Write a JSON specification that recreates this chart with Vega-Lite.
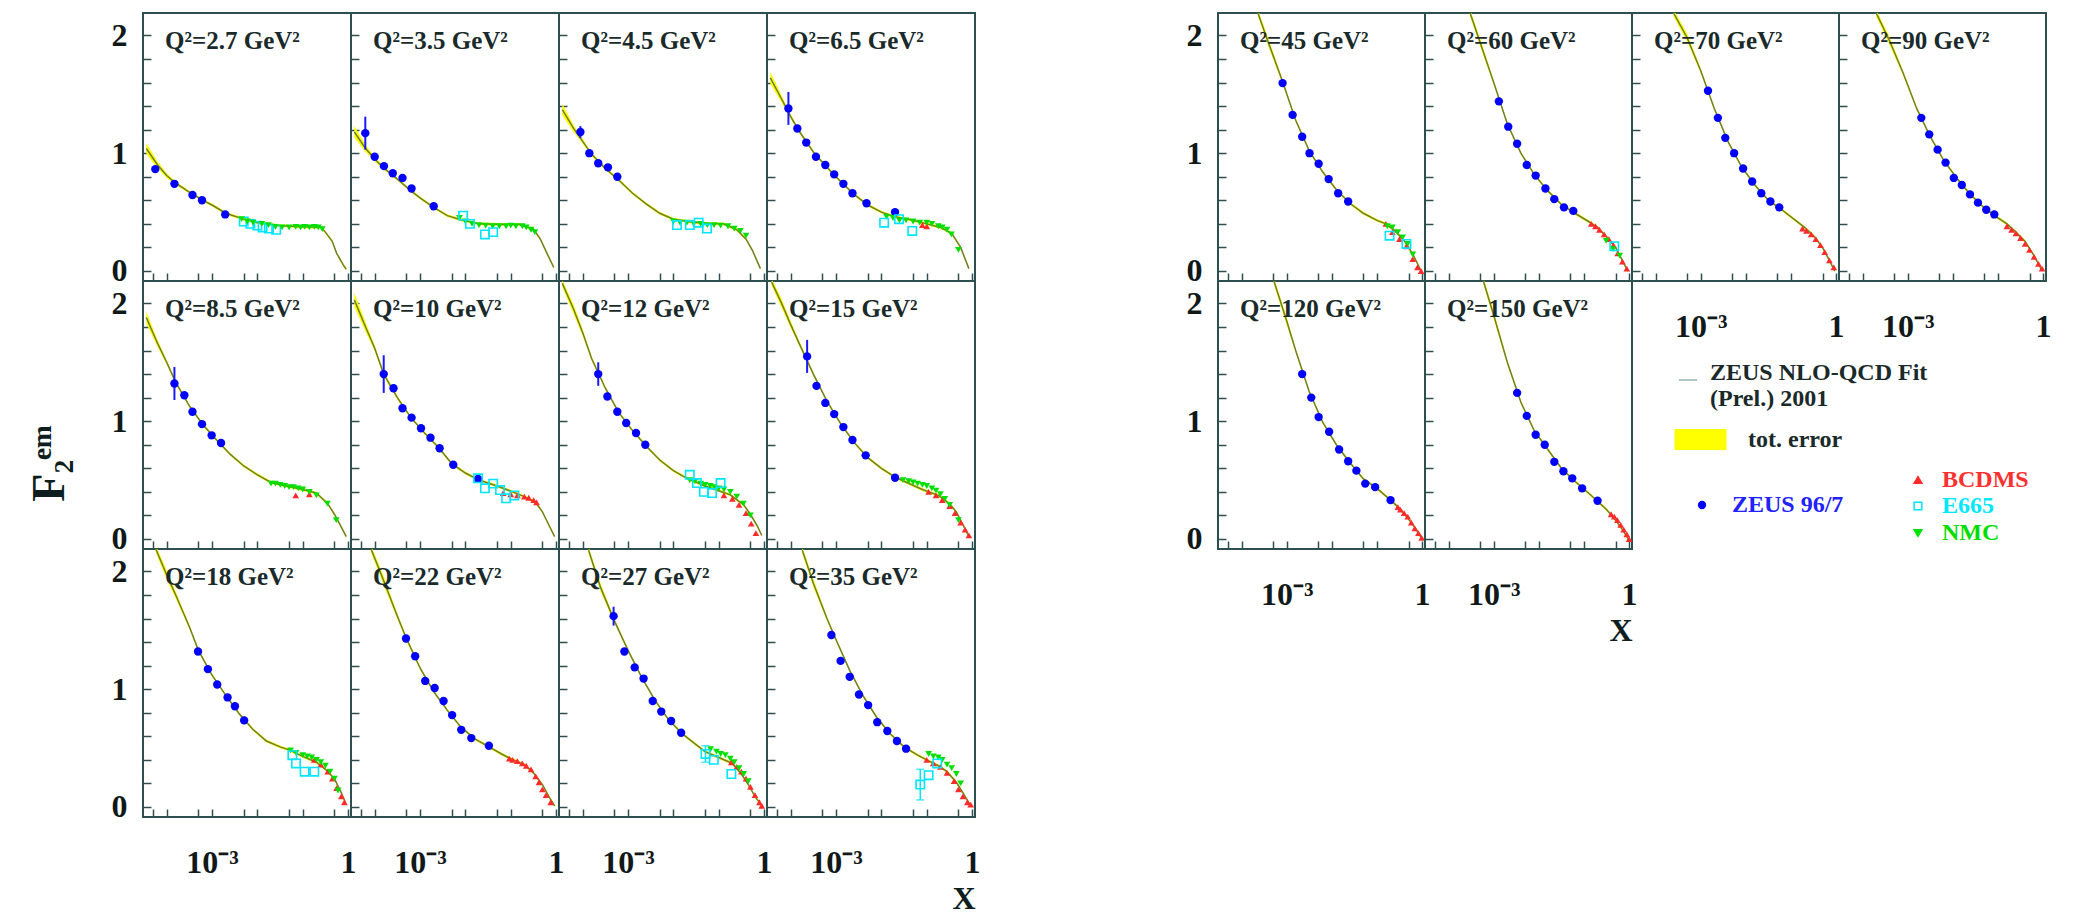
{
"$schema": "https://vega.github.io/schema/vega-lite/v6.json",
"background": "white",
"padding": {"left": 27, "top": 12, "right": 0, "bottom": 0},
"title": {"text": "F₂ᵉᵐ", "orient": "left", "anchor": "middle", "frame": "bounds", "baseline": "top", "dx": 0, "font": "Liberation Serif", "fontWeight": "bold", "fontSize": 46, "offset": 36, "color": "#0e1e1e"},
"spacing": 203,
"datasets": {
"left": [
{"q":"2.7","s":"fit","x":3.55e-5,"y":1.04,"e":0.045},{"q":"2.7","s":"fit","x":6.3e-5,"y":0.9,"e":0.03},{"q":"2.7","s":"fit","x":1e-4,"y":0.81,"e":0.02},{"q":"2.7","s":"fit","x":1.58e-4,"y":0.745,"e":0.015},{"q":"2.7","s":"fit","x":3.16e-4,"y":0.67,"e":0.012},{"q":"2.7","s":"fit","x":6.3e-4,"y":0.6,"e":0.012},{"q":"2.7","s":"fit","x":1e-3,"y":0.56,"e":0.012},{"q":"2.7","s":"fit","x":2e-3,"y":0.49,"e":0.012},{"q":"2.7","s":"fit","x":5e-3,"y":0.44,"e":0.012},{"q":"2.7","s":"fit","x":0.01,"y":0.41,"e":0.012},{"q":"2.7","s":"fit","x":0.0316,"y":0.385,"e":0.012},{"q":"2.7","s":"fit","x":0.1,"y":0.375,"e":0.012},{"q":"2.7","s":"fit","x":0.25,"y":0.372,"e":0.012},{"q":"2.7","s":"fit","x":0.316,"y":0.33,"e":0.012},{"q":"2.7","s":"fit","x":0.45,"y":0.25,"e":0.012},{"q":"2.7","s":"fit","x":0.56,"y":0.15,"e":0.012},{"q":"2.7","s":"fit","x":0.79,"y":0.05,"e":0.012},{"q":"2.7","s":"fit","x":0.91,"y":0.015,"e":0.012},
{"q":"2.7","s":"ZEUS 96/7","x":5.6e-5,"y":0.865},{"q":"2.7","s":"ZEUS 96/7","x":1.48e-4,"y":0.74},{"q":"2.7","s":"ZEUS 96/7","x":3.7e-4,"y":0.645},{"q":"2.7","s":"ZEUS 96/7","x":6e-4,"y":0.6},{"q":"2.7","s":"ZEUS 96/7","x":1.95e-3,"y":0.48},
{"q":"2.7","s":"E665","x":5e-3,"y":0.42},{"q":"2.7","s":"E665","x":7e-3,"y":0.4},{"q":"2.7","s":"E665","x":0.01,"y":0.385},{"q":"2.7","s":"E665","x":0.013,"y":0.37},{"q":"2.7","s":"E665","x":0.018,"y":0.36},{"q":"2.7","s":"E665","x":0.026,"y":0.35},
{"q":"2.7","s":"NMC","x":4.5e-3,"y":0.44},{"q":"2.7","s":"NMC","x":6e-3,"y":0.42},{"q":"2.7","s":"NMC","x":8e-3,"y":0.41},{"q":"2.7","s":"NMC","x":0.0125,"y":0.4},{"q":"2.7","s":"NMC","x":0.0175,"y":0.39},{"q":"2.7","s":"NMC","x":0.025,"y":0.375},{"q":"2.7","s":"NMC","x":0.035,"y":0.37},{"q":"2.7","s":"NMC","x":0.05,"y":0.37},{"q":"2.7","s":"NMC","x":0.07,"y":0.375},{"q":"2.7","s":"NMC","x":0.09,"y":0.37},{"q":"2.7","s":"NMC","x":0.11,"y":0.375},{"q":"2.7","s":"NMC","x":0.14,"y":0.37},{"q":"2.7","s":"NMC","x":0.18,"y":0.375},{"q":"2.7","s":"NMC","x":0.22,"y":0.37},{"q":"2.7","s":"NMC","x":0.27,"y":0.355},
{"q":"3.5","s":"fit","x":3.55e-5,"y":1.18,"e":0.05},{"q":"3.5","s":"fit","x":6.3e-5,"y":1.04,"e":0.03},{"q":"3.5","s":"fit","x":1e-4,"y":0.95,"e":0.02},{"q":"3.5","s":"fit","x":1.58e-4,"y":0.875,"e":0.015},{"q":"3.5","s":"fit","x":3.16e-4,"y":0.78,"e":0.012},{"q":"3.5","s":"fit","x":6.3e-4,"y":0.68,"e":0.012},{"q":"3.5","s":"fit","x":1e-3,"y":0.62,"e":0.012},{"q":"3.5","s":"fit","x":2e-3,"y":0.54,"e":0.012},{"q":"3.5","s":"fit","x":4e-3,"y":0.47,"e":0.012},{"q":"3.5","s":"fit","x":7.9e-3,"y":0.435,"e":0.012},{"q":"3.5","s":"fit","x":0.02,"y":0.4,"e":0.012},{"q":"3.5","s":"fit","x":0.063,"y":0.395,"e":0.012},{"q":"3.5","s":"fit","x":0.158,"y":0.395,"e":0.012},{"q":"3.5","s":"fit","x":0.316,"y":0.355,"e":0.012},{"q":"3.5","s":"fit","x":0.45,"y":0.27,"e":0.012},{"q":"3.5","s":"fit","x":0.63,"y":0.15,"e":0.012},{"q":"3.5","s":"fit","x":0.89,"y":0.03,"e":0.012},
{"q":"3.5","s":"ZEUS 96/7","x":6.2e-5,"y":1.17,"e":0.14},{"q":"3.5","s":"ZEUS 96/7","x":1e-4,"y":0.97},{"q":"3.5","s":"ZEUS 96/7","x":1.6e-4,"y":0.89},{"q":"3.5","s":"ZEUS 96/7","x":2.5e-4,"y":0.83},{"q":"3.5","s":"ZEUS 96/7","x":4.1e-4,"y":0.79},{"q":"3.5","s":"ZEUS 96/7","x":6.5e-4,"y":0.7},{"q":"3.5","s":"ZEUS 96/7","x":2e-3,"y":0.55},
{"q":"3.5","s":"E665","x":8.9e-3,"y":0.47},{"q":"3.5","s":"E665","x":0.0126,"y":0.4},{"q":"3.5","s":"E665","x":0.027,"y":0.31},{"q":"3.5","s":"E665","x":0.041,"y":0.33},
{"q":"3.5","s":"NMC","x":7.4e-3,"y":0.45},{"q":"3.5","s":"NMC","x":0.01,"y":0.42},{"q":"3.5","s":"NMC","x":0.014,"y":0.4},{"q":"3.5","s":"NMC","x":0.02,"y":0.39},{"q":"3.5","s":"NMC","x":0.028,"y":0.385},{"q":"3.5","s":"NMC","x":0.04,"y":0.38},{"q":"3.5","s":"NMC","x":0.056,"y":0.38},{"q":"3.5","s":"NMC","x":0.079,"y":0.38},{"q":"3.5","s":"NMC","x":0.1,"y":0.385},{"q":"3.5","s":"NMC","x":0.13,"y":0.38},{"q":"3.5","s":"NMC","x":0.18,"y":0.38},{"q":"3.5","s":"NMC","x":0.22,"y":0.37},{"q":"3.5","s":"NMC","x":0.28,"y":0.35},{"q":"3.5","s":"NMC","x":0.34,"y":0.33},
{"q":"4.5","s":"fit","x":3.55e-5,"y":1.37,"e":0.05},{"q":"4.5","s":"fit","x":6.3e-5,"y":1.21,"e":0.03},{"q":"4.5","s":"fit","x":1e-4,"y":1.1,"e":0.02},{"q":"4.5","s":"fit","x":1.58e-4,"y":0.99,"e":0.015},{"q":"4.5","s":"fit","x":3.16e-4,"y":0.87,"e":0.012},{"q":"4.5","s":"fit","x":6.3e-4,"y":0.77,"e":0.012},{"q":"4.5","s":"fit","x":1.26e-3,"y":0.66,"e":0.012},{"q":"4.5","s":"fit","x":2.5e-3,"y":0.57,"e":0.012},{"q":"4.5","s":"fit","x":5e-3,"y":0.49,"e":0.012},{"q":"4.5","s":"fit","x":0.01,"y":0.44,"e":0.012},{"q":"4.5","s":"fit","x":0.025,"y":0.415,"e":0.012},{"q":"4.5","s":"fit","x":0.063,"y":0.4,"e":0.012},{"q":"4.5","s":"fit","x":0.126,"y":0.4,"e":0.012},{"q":"4.5","s":"fit","x":0.25,"y":0.35,"e":0.012},{"q":"4.5","s":"fit","x":0.4,"y":0.27,"e":0.012},{"q":"4.5","s":"fit","x":0.56,"y":0.17,"e":0.012},{"q":"4.5","s":"fit","x":0.83,"y":0.02,"e":0.012},
{"q":"4.5","s":"ZEUS 96/7","x":8.9e-5,"y":1.18,"e":0.05},{"q":"4.5","s":"ZEUS 96/7","x":1.4e-4,"y":1.0},{"q":"4.5","s":"ZEUS 96/7","x":2.2e-4,"y":0.915},{"q":"4.5","s":"ZEUS 96/7","x":3.6e-4,"y":0.88},{"q":"4.5","s":"ZEUS 96/7","x":5.8e-4,"y":0.8},
{"q":"4.5","s":"E665","x":0.012,"y":0.39},{"q":"4.5","s":"E665","x":0.023,"y":0.39},{"q":"4.5","s":"E665","x":0.036,"y":0.41},{"q":"4.5","s":"E665","x":0.055,"y":0.36},
{"q":"4.5","s":"NMC","x":0.01,"y":0.42},{"q":"4.5","s":"NMC","x":0.014,"y":0.41},{"q":"4.5","s":"NMC","x":0.02,"y":0.41},{"q":"4.5","s":"NMC","x":0.028,"y":0.4},{"q":"4.5","s":"NMC","x":0.04,"y":0.4},{"q":"4.5","s":"NMC","x":0.056,"y":0.39},{"q":"4.5","s":"NMC","x":0.079,"y":0.39},{"q":"4.5","s":"NMC","x":0.11,"y":0.385},{"q":"4.5","s":"NMC","x":0.16,"y":0.38},{"q":"4.5","s":"NMC","x":0.22,"y":0.36},{"q":"4.5","s":"NMC","x":0.3,"y":0.34},{"q":"4.5","s":"NMC","x":0.4,"y":0.3},
{"q":"6.5","s":"fit","x":3.55e-5,"y":1.64,"e":0.05},{"q":"6.5","s":"fit","x":6.3e-5,"y":1.46,"e":0.03},{"q":"6.5","s":"fit","x":1e-4,"y":1.31,"e":0.02},{"q":"6.5","s":"fit","x":1.58e-4,"y":1.18,"e":0.015},{"q":"6.5","s":"fit","x":3.16e-4,"y":1.01,"e":0.012},{"q":"6.5","s":"fit","x":6.3e-4,"y":0.88,"e":0.012},{"q":"6.5","s":"fit","x":1.26e-3,"y":0.76,"e":0.012},{"q":"6.5","s":"fit","x":2.5e-3,"y":0.65,"e":0.012},{"q":"6.5","s":"fit","x":5e-3,"y":0.56,"e":0.012},{"q":"6.5","s":"fit","x":0.01,"y":0.5,"e":0.012},{"q":"6.5","s":"fit","x":0.02,"y":0.46,"e":0.012},{"q":"6.5","s":"fit","x":0.05,"y":0.43,"e":0.012},{"q":"6.5","s":"fit","x":0.1,"y":0.4,"e":0.012},{"q":"6.5","s":"fit","x":0.2,"y":0.37,"e":0.012},{"q":"6.5","s":"fit","x":0.355,"y":0.32,"e":0.012},{"q":"6.5","s":"fit","x":0.56,"y":0.2,"e":0.012},{"q":"6.5","s":"fit","x":0.85,"y":0.02,"e":0.012},
{"q":"6.5","s":"ZEUS 96/7","x":8.9e-5,"y":1.38,"e":0.14},{"q":"6.5","s":"ZEUS 96/7","x":1.4e-4,"y":1.21},{"q":"6.5","s":"ZEUS 96/7","x":2.2e-4,"y":1.09},{"q":"6.5","s":"ZEUS 96/7","x":3.6e-4,"y":0.97},{"q":"6.5","s":"ZEUS 96/7","x":5.8e-4,"y":0.9},{"q":"6.5","s":"ZEUS 96/7","x":9.1e-4,"y":0.82},{"q":"6.5","s":"ZEUS 96/7","x":1.45e-3,"y":0.74},{"q":"6.5","s":"ZEUS 96/7","x":2.3e-3,"y":0.66},{"q":"6.5","s":"ZEUS 96/7","x":4.7e-3,"y":0.575},{"q":"6.5","s":"ZEUS 96/7","x":0.02,"y":0.5},
{"q":"6.5","s":"E665","x":0.0115,"y":0.41},{"q":"6.5","s":"E665","x":0.0245,"y":0.44},{"q":"6.5","s":"E665","x":0.048,"y":0.34},
{"q":"6.5","s":"NMC","x":0.013,"y":0.46},{"q":"6.5","s":"NMC","x":0.018,"y":0.45},{"q":"6.5","s":"NMC","x":0.025,"y":0.43},{"q":"6.5","s":"NMC","x":0.035,"y":0.43},{"q":"6.5","s":"NMC","x":0.05,"y":0.42},{"q":"6.5","s":"NMC","x":0.07,"y":0.41},{"q":"6.5","s":"NMC","x":0.1,"y":0.41},{"q":"6.5","s":"NMC","x":0.13,"y":0.4},{"q":"6.5","s":"NMC","x":0.18,"y":0.38},{"q":"6.5","s":"NMC","x":0.22,"y":0.37},{"q":"6.5","s":"NMC","x":0.28,"y":0.35},{"q":"6.5","s":"NMC","x":0.35,"y":0.31},{"q":"6.5","s":"NMC","x":0.5,"y":0.18},
{"q":"6.5","s":"BCDMS","x":0.08,"y":0.39},{"q":"6.5","s":"BCDMS","x":0.1,"y":0.38},
{"q":"8.5","s":"fit","x":3.55e-5,"y":1.88,"e":0.05},{"q":"8.5","s":"fit","x":6.3e-5,"y":1.66,"e":0.03},{"q":"8.5","s":"fit","x":1e-4,"y":1.5,"e":0.02},{"q":"8.5","s":"fit","x":1.58e-4,"y":1.33,"e":0.015},{"q":"8.5","s":"fit","x":3.16e-4,"y":1.13,"e":0.012},{"q":"8.5","s":"fit","x":6.3e-4,"y":0.97,"e":0.012},{"q":"8.5","s":"fit","x":1.26e-3,"y":0.84,"e":0.012},{"q":"8.5","s":"fit","x":2.5e-3,"y":0.72,"e":0.012},{"q":"8.5","s":"fit","x":5e-3,"y":0.62,"e":0.012},{"q":"8.5","s":"fit","x":0.01,"y":0.545,"e":0.012},{"q":"8.5","s":"fit","x":0.02,"y":0.48,"e":0.012},{"q":"8.5","s":"fit","x":0.05,"y":0.445,"e":0.012},{"q":"8.5","s":"fit","x":0.1,"y":0.42,"e":0.012},{"q":"8.5","s":"fit","x":0.2,"y":0.39,"e":0.012},{"q":"8.5","s":"fit","x":0.355,"y":0.3,"e":0.012},{"q":"8.5","s":"fit","x":0.5,"y":0.21,"e":0.012},{"q":"8.5","s":"fit","x":0.71,"y":0.1,"e":0.012},{"q":"8.5","s":"fit","x":0.91,"y":0.02,"e":0.012},
{"q":"8.5","s":"ZEUS 96/7","x":1.48e-4,"y":1.32,"e":0.14},{"q":"8.5","s":"ZEUS 96/7","x":2.45e-4,"y":1.22},{"q":"8.5","s":"ZEUS 96/7","x":3.7e-4,"y":1.08},{"q":"8.5","s":"ZEUS 96/7","x":6e-4,"y":0.975},{"q":"8.5","s":"ZEUS 96/7","x":9.8e-4,"y":0.88},{"q":"8.5","s":"ZEUS 96/7","x":1.58e-3,"y":0.815},
{"q":"8.5","s":"NMC","x":0.02,"y":0.47},{"q":"8.5","s":"NMC","x":0.025,"y":0.47},{"q":"8.5","s":"NMC","x":0.032,"y":0.46},{"q":"8.5","s":"NMC","x":0.04,"y":0.45},{"q":"8.5","s":"NMC","x":0.05,"y":0.44},{"q":"8.5","s":"NMC","x":0.063,"y":0.44},{"q":"8.5","s":"NMC","x":0.08,"y":0.43},{"q":"8.5","s":"NMC","x":0.1,"y":0.42},{"q":"8.5","s":"NMC","x":0.14,"y":0.4},{"q":"8.5","s":"NMC","x":0.2,"y":0.37},{"q":"8.5","s":"NMC","x":0.35,"y":0.3},{"q":"8.5","s":"NMC","x":0.55,"y":0.16},
{"q":"8.5","s":"BCDMS","x":0.07,"y":0.37},{"q":"8.5","s":"BCDMS","x":0.14,"y":0.38},
{"q":"10","s":"fit","x":3.55e-5,"y":2.03,"e":0.06},{"q":"10","s":"fit","x":6.3e-5,"y":1.8,"e":0.04},{"q":"10","s":"fit","x":1e-4,"y":1.62,"e":0.025},{"q":"10","s":"fit","x":1.58e-4,"y":1.4,"e":0.02},{"q":"10","s":"fit","x":3.16e-4,"y":1.2,"e":0.015},{"q":"10","s":"fit","x":6.3e-4,"y":1.03,"e":0.012},{"q":"10","s":"fit","x":1.26e-3,"y":0.9,"e":0.012},{"q":"10","s":"fit","x":2.5e-3,"y":0.78,"e":0.012},{"q":"10","s":"fit","x":5e-3,"y":0.64,"e":0.012},{"q":"10","s":"fit","x":0.01,"y":0.56,"e":0.012},{"q":"10","s":"fit","x":0.02,"y":0.5,"e":0.012},{"q":"10","s":"fit","x":0.05,"y":0.45,"e":0.012},{"q":"10","s":"fit","x":0.11,"y":0.4,"e":0.012},{"q":"10","s":"fit","x":0.2,"y":0.36,"e":0.012},{"q":"10","s":"fit","x":0.355,"y":0.31,"e":0.012},{"q":"10","s":"fit","x":0.5,"y":0.23,"e":0.012},{"q":"10","s":"fit","x":0.71,"y":0.11,"e":0.012},{"q":"10","s":"fit","x":0.93,"y":0.02,"e":0.012},
{"q":"10","s":"ZEUS 96/7","x":1.58e-4,"y":1.4,"e":0.16},{"q":"10","s":"ZEUS 96/7","x":2.6e-4,"y":1.28},{"q":"10","s":"ZEUS 96/7","x":4.1e-4,"y":1.11},{"q":"10","s":"ZEUS 96/7","x":6.5e-4,"y":1.03},{"q":"10","s":"ZEUS 96/7","x":1.05e-3,"y":0.94},{"q":"10","s":"ZEUS 96/7","x":1.7e-3,"y":0.86},{"q":"10","s":"ZEUS 96/7","x":2.7e-3,"y":0.77},{"q":"10","s":"ZEUS 96/7","x":5.4e-3,"y":0.63},{"q":"10","s":"ZEUS 96/7","x":0.019,"y":0.51},
{"q":"10","s":"E665","x":0.019,"y":0.515},{"q":"10","s":"E665","x":0.027,"y":0.43},{"q":"10","s":"E665","x":0.041,"y":0.47},{"q":"10","s":"E665","x":0.058,"y":0.415},{"q":"10","s":"E665","x":0.079,"y":0.345},{"q":"10","s":"E665","x":0.12,"y":0.37},
{"q":"10","s":"BCDMS","x":0.068,"y":0.39},{"q":"10","s":"BCDMS","x":0.1,"y":0.38},{"q":"10","s":"BCDMS","x":0.14,"y":0.37},{"q":"10","s":"BCDMS","x":0.2,"y":0.36},{"q":"10","s":"BCDMS","x":0.25,"y":0.35},{"q":"10","s":"BCDMS","x":0.32,"y":0.33},{"q":"10","s":"BCDMS","x":0.37,"y":0.31},
{"q":"12","s":"fit","x":3.55e-5,"y":2.17,"e":0.03},{"q":"12","s":"fit","x":6.3e-5,"y":1.95,"e":0.04},{"q":"12","s":"fit","x":1e-4,"y":1.75,"e":0.03},{"q":"12","s":"fit","x":1.58e-4,"y":1.53,"e":0.02},{"q":"12","s":"fit","x":3.16e-4,"y":1.28,"e":0.015},{"q":"12","s":"fit","x":6.3e-4,"y":1.07,"e":0.012},{"q":"12","s":"fit","x":1.26e-3,"y":0.92,"e":0.012},{"q":"12","s":"fit","x":2.5e-3,"y":0.79,"e":0.012},{"q":"12","s":"fit","x":5e-3,"y":0.67,"e":0.012},{"q":"12","s":"fit","x":0.01,"y":0.58,"e":0.012},{"q":"12","s":"fit","x":0.02,"y":0.515,"e":0.012},{"q":"12","s":"fit","x":0.05,"y":0.45,"e":0.012},{"q":"12","s":"fit","x":0.1,"y":0.41,"e":0.012},{"q":"12","s":"fit","x":0.18,"y":0.375,"e":0.012},{"q":"12","s":"fit","x":0.355,"y":0.29,"e":0.012},{"q":"12","s":"fit","x":0.5,"y":0.21,"e":0.012},{"q":"12","s":"fit","x":0.71,"y":0.11,"e":0.012},{"q":"12","s":"fit","x":0.89,"y":0.03,"e":0.012},
{"q":"12","s":"ZEUS 96/7","x":2.2e-4,"y":1.4,"e":0.1},{"q":"12","s":"ZEUS 96/7","x":3.5e-4,"y":1.21},{"q":"12","s":"ZEUS 96/7","x":5.8e-4,"y":1.08},{"q":"12","s":"ZEUS 96/7","x":9.1e-4,"y":0.985},{"q":"12","s":"ZEUS 96/7","x":1.5e-3,"y":0.9},{"q":"12","s":"ZEUS 96/7","x":2.4e-3,"y":0.8},
{"q":"12","s":"E665","x":0.023,"y":0.545},{"q":"12","s":"E665","x":0.033,"y":0.475},{"q":"12","s":"E665","x":0.047,"y":0.4},{"q":"12","s":"E665","x":0.071,"y":0.39},{"q":"12","s":"E665","x":0.11,"y":0.475},
{"q":"12","s":"NMC","x":0.023,"y":0.5},{"q":"12","s":"NMC","x":0.03,"y":0.49},{"q":"12","s":"NMC","x":0.04,"y":0.47},{"q":"12","s":"NMC","x":0.05,"y":0.46},{"q":"12","s":"NMC","x":0.065,"y":0.45},{"q":"12","s":"NMC","x":0.08,"y":0.44},{"q":"12","s":"NMC","x":0.1,"y":0.43},{"q":"12","s":"NMC","x":0.13,"y":0.42},{"q":"12","s":"NMC","x":0.18,"y":0.4},{"q":"12","s":"NMC","x":0.25,"y":0.36},{"q":"12","s":"NMC","x":0.35,"y":0.3},{"q":"12","s":"NMC","x":0.5,"y":0.2},
{"q":"12","s":"BCDMS","x":0.13,"y":0.37},{"q":"12","s":"BCDMS","x":0.2,"y":0.34},{"q":"12","s":"BCDMS","x":0.28,"y":0.29},{"q":"12","s":"BCDMS","x":0.4,"y":0.22},{"q":"12","s":"BCDMS","x":0.52,"y":0.13},{"q":"12","s":"BCDMS","x":0.66,"y":0.05},
{"q":"15","s":"fit","x":3.8e-5,"y":2.18,"e":0.03},{"q":"15","s":"fit","x":6.3e-5,"y":2.0,"e":0.04},{"q":"15","s":"fit","x":1e-4,"y":1.82,"e":0.03},{"q":"15","s":"fit","x":1.58e-4,"y":1.65,"e":0.02},{"q":"15","s":"fit","x":3.16e-4,"y":1.4,"e":0.015},{"q":"15","s":"fit","x":6.3e-4,"y":1.17,"e":0.012},{"q":"15","s":"fit","x":1.26e-3,"y":0.98,"e":0.012},{"q":"15","s":"fit","x":2.5e-3,"y":0.82,"e":0.012},{"q":"15","s":"fit","x":5e-3,"y":0.69,"e":0.012},{"q":"15","s":"fit","x":0.01,"y":0.6,"e":0.012},{"q":"15","s":"fit","x":0.02,"y":0.525,"e":0.012},{"q":"15","s":"fit","x":0.0316,"y":0.49,"e":0.012},{"q":"15","s":"fit","x":0.08,"y":0.42,"e":0.012},{"q":"15","s":"fit","x":0.18,"y":0.37,"e":0.012},{"q":"15","s":"fit","x":0.316,"y":0.3,"e":0.012},{"q":"15","s":"fit","x":0.45,"y":0.23,"e":0.012},{"q":"15","s":"fit","x":0.63,"y":0.12,"e":0.012},{"q":"15","s":"fit","x":0.83,"y":0.03,"e":0.012},
{"q":"15","s":"ZEUS 96/7","x":2.3e-4,"y":1.55,"e":0.14},{"q":"15","s":"ZEUS 96/7","x":3.7e-4,"y":1.3},{"q":"15","s":"ZEUS 96/7","x":5.8e-4,"y":1.155},{"q":"15","s":"ZEUS 96/7","x":9.1e-4,"y":1.06},{"q":"15","s":"ZEUS 96/7","x":1.45e-3,"y":0.95},{"q":"15","s":"ZEUS 96/7","x":2.3e-3,"y":0.84},{"q":"15","s":"ZEUS 96/7","x":4.5e-3,"y":0.71},{"q":"15","s":"ZEUS 96/7","x":0.02,"y":0.52},
{"q":"15","s":"NMC","x":0.03,"y":0.5},{"q":"15","s":"NMC","x":0.04,"y":0.49},{"q":"15","s":"NMC","x":0.05,"y":0.48},{"q":"15","s":"NMC","x":0.063,"y":0.47},{"q":"15","s":"NMC","x":0.08,"y":0.46},{"q":"15","s":"NMC","x":0.1,"y":0.45},{"q":"15","s":"NMC","x":0.13,"y":0.43},{"q":"15","s":"NMC","x":0.16,"y":0.41},{"q":"15","s":"NMC","x":0.2,"y":0.38},{"q":"15","s":"NMC","x":0.25,"y":0.34},{"q":"15","s":"NMC","x":0.32,"y":0.29},{"q":"15","s":"NMC","x":0.5,"y":0.16},
{"q":"15","s":"BCDMS","x":0.11,"y":0.4},{"q":"15","s":"BCDMS","x":0.16,"y":0.37},{"q":"15","s":"BCDMS","x":0.22,"y":0.33},{"q":"15","s":"BCDMS","x":0.32,"y":0.28},{"q":"15","s":"BCDMS","x":0.42,"y":0.22},{"q":"15","s":"BCDMS","x":0.56,"y":0.14},{"q":"15","s":"BCDMS","x":0.7,"y":0.08},{"q":"15","s":"BCDMS","x":0.85,"y":0.03},
{"q":"18","s":"fit","x":5.75e-5,"y":2.19,"e":0.03},{"q":"18","s":"fit","x":1e-4,"y":1.97,"e":0.04},{"q":"18","s":"fit","x":1.58e-4,"y":1.8,"e":0.03},{"q":"18","s":"fit","x":3.16e-4,"y":1.53,"e":0.02},{"q":"18","s":"fit","x":5e-4,"y":1.33,"e":0.015},{"q":"18","s":"fit","x":1e-3,"y":1.12,"e":0.012},{"q":"18","s":"fit","x":2e-3,"y":0.95,"e":0.012},{"q":"18","s":"fit","x":4e-3,"y":0.79,"e":0.012},{"q":"18","s":"fit","x":7.9e-3,"y":0.66,"e":0.012},{"q":"18","s":"fit","x":0.0158,"y":0.56,"e":0.012},{"q":"18","s":"fit","x":0.0316,"y":0.51,"e":0.012},{"q":"18","s":"fit","x":0.05,"y":0.485,"e":0.012},{"q":"18","s":"fit","x":0.1,"y":0.43,"e":0.012},{"q":"18","s":"fit","x":0.2,"y":0.38,"e":0.012},{"q":"18","s":"fit","x":0.316,"y":0.32,"e":0.012},{"q":"18","s":"fit","x":0.5,"y":0.24,"e":0.012},{"q":"18","s":"fit","x":0.71,"y":0.12,"e":0.012},{"q":"18","s":"fit","x":0.89,"y":0.03,"e":0.012},
{"q":"18","s":"ZEUS 96/7","x":4.9e-4,"y":1.32},{"q":"18","s":"ZEUS 96/7","x":8.1e-4,"y":1.17},{"q":"18","s":"ZEUS 96/7","x":1.3e-3,"y":1.04},{"q":"18","s":"ZEUS 96/7","x":2.2e-3,"y":0.93},{"q":"18","s":"ZEUS 96/7","x":3.2e-3,"y":0.855},{"q":"18","s":"ZEUS 96/7","x":5.1e-3,"y":0.735},
{"q":"18","s":"E665","x":0.059,"y":0.44},{"q":"18","s":"E665","x":0.071,"y":0.37},{"q":"18","s":"E665","x":0.11,"y":0.3},{"q":"18","s":"E665","x":0.18,"y":0.3},
{"q":"18","s":"NMC","x":0.054,"y":0.48},{"q":"18","s":"NMC","x":0.071,"y":0.46},{"q":"18","s":"NMC","x":0.1,"y":0.44},{"q":"18","s":"NMC","x":0.126,"y":0.43},{"q":"18","s":"NMC","x":0.158,"y":0.42},{"q":"18","s":"NMC","x":0.2,"y":0.4},{"q":"18","s":"NMC","x":0.25,"y":0.38},{"q":"18","s":"NMC","x":0.316,"y":0.35},{"q":"18","s":"NMC","x":0.4,"y":0.3},{"q":"18","s":"NMC","x":0.5,"y":0.24},{"q":"18","s":"NMC","x":0.6,"y":0.14},
{"q":"18","s":"BCDMS","x":0.18,"y":0.4},{"q":"18","s":"BCDMS","x":0.25,"y":0.36},{"q":"18","s":"BCDMS","x":0.355,"y":0.3},{"q":"18","s":"BCDMS","x":0.45,"y":0.24},{"q":"18","s":"BCDMS","x":0.56,"y":0.16},{"q":"18","s":"BCDMS","x":0.71,"y":0.09},{"q":"18","s":"BCDMS","x":0.83,"y":0.04},
{"q":"22","s":"fit","x":8.3e-5,"y":2.19,"e":0.03},{"q":"22","s":"fit","x":1.58e-4,"y":1.92,"e":0.04},{"q":"22","s":"fit","x":3.16e-4,"y":1.62,"e":0.025},{"q":"22","s":"fit","x":5e-4,"y":1.43,"e":0.02},{"q":"22","s":"fit","x":1e-3,"y":1.18,"e":0.015},{"q":"22","s":"fit","x":2e-3,"y":0.98,"e":0.012},{"q":"22","s":"fit","x":4e-3,"y":0.82,"e":0.012},{"q":"22","s":"fit","x":7.9e-3,"y":0.68,"e":0.012},{"q":"22","s":"fit","x":0.0158,"y":0.58,"e":0.012},{"q":"22","s":"fit","x":0.0316,"y":0.515,"e":0.012},{"q":"22","s":"fit","x":0.063,"y":0.45,"e":0.012},{"q":"22","s":"fit","x":0.1,"y":0.41,"e":0.012},{"q":"22","s":"fit","x":0.2,"y":0.36,"e":0.012},{"q":"22","s":"fit","x":0.316,"y":0.29,"e":0.012},{"q":"22","s":"fit","x":0.5,"y":0.19,"e":0.012},{"q":"22","s":"fit","x":0.74,"y":0.07,"e":0.012},{"q":"22","s":"fit","x":0.93,"y":0.01,"e":0.012},
{"q":"22","s":"ZEUS 96/7","x":4.9e-4,"y":1.43},{"q":"22","s":"ZEUS 96/7","x":7.8e-4,"y":1.28},{"q":"22","s":"ZEUS 96/7","x":1.3e-3,"y":1.07},{"q":"22","s":"ZEUS 96/7","x":2.1e-3,"y":1.01},{"q":"22","s":"ZEUS 96/7","x":3.3e-3,"y":0.9},{"q":"22","s":"ZEUS 96/7","x":5.1e-3,"y":0.78},{"q":"22","s":"ZEUS 96/7","x":8.1e-3,"y":0.655},{"q":"22","s":"ZEUS 96/7","x":0.0135,"y":0.585},{"q":"22","s":"ZEUS 96/7","x":0.033,"y":0.52},
{"q":"22","s":"BCDMS","x":0.093,"y":0.41},{"q":"22","s":"BCDMS","x":0.11,"y":0.4},{"q":"22","s":"BCDMS","x":0.14,"y":0.39},{"q":"22","s":"BCDMS","x":0.18,"y":0.37},{"q":"22","s":"BCDMS","x":0.22,"y":0.35},{"q":"22","s":"BCDMS","x":0.28,"y":0.32},{"q":"22","s":"BCDMS","x":0.355,"y":0.26},{"q":"22","s":"BCDMS","x":0.42,"y":0.21},{"q":"22","s":"BCDMS","x":0.5,"y":0.15},{"q":"22","s":"BCDMS","x":0.6,"y":0.1},{"q":"22","s":"BCDMS","x":0.76,"y":0.04},
{"q":"27","s":"fit","x":1.35e-4,"y":2.18,"e":0.03},{"q":"27","s":"fit","x":2.5e-4,"y":1.86,"e":0.035},{"q":"27","s":"fit","x":5e-4,"y":1.58,"e":0.02},{"q":"27","s":"fit","x":1e-3,"y":1.33,"e":0.015},{"q":"27","s":"fit","x":2e-3,"y":1.1,"e":0.012},{"q":"27","s":"fit","x":4e-3,"y":0.9,"e":0.012},{"q":"27","s":"fit","x":7.9e-3,"y":0.74,"e":0.012},{"q":"27","s":"fit","x":0.0158,"y":0.62,"e":0.012},{"q":"27","s":"fit","x":0.0316,"y":0.53,"e":0.012},{"q":"27","s":"fit","x":0.05,"y":0.47,"e":0.012},{"q":"27","s":"fit","x":0.1,"y":0.42,"e":0.012},{"q":"27","s":"fit","x":0.2,"y":0.37,"e":0.012},{"q":"27","s":"fit","x":0.316,"y":0.28,"e":0.012},{"q":"27","s":"fit","x":0.45,"y":0.19,"e":0.012},{"q":"27","s":"fit","x":0.63,"y":0.09,"e":0.012},{"q":"27","s":"fit","x":0.85,"y":0.02,"e":0.012},
{"q":"27","s":"ZEUS 96/7","x":4.8e-4,"y":1.62,"e":0.08},{"q":"27","s":"ZEUS 96/7","x":8.3e-4,"y":1.32},{"q":"27","s":"ZEUS 96/7","x":1.4e-3,"y":1.185},{"q":"27","s":"ZEUS 96/7","x":2.2e-3,"y":1.09},{"q":"27","s":"ZEUS 96/7","x":3.5e-3,"y":0.9},{"q":"27","s":"ZEUS 96/7","x":5.4e-3,"y":0.81},{"q":"27","s":"ZEUS 96/7","x":8.9e-3,"y":0.73},{"q":"27","s":"ZEUS 96/7","x":0.0148,"y":0.63},
{"q":"27","s":"E665","x":0.051,"y":0.45,"e":0.07},{"q":"27","s":"E665","x":0.078,"y":0.4},{"q":"27","s":"E665","x":0.19,"y":0.28},
{"q":"27","s":"NMC","x":0.066,"y":0.49},{"q":"27","s":"NMC","x":0.089,"y":0.47},{"q":"27","s":"NMC","x":0.11,"y":0.45},{"q":"27","s":"NMC","x":0.14,"y":0.44},{"q":"27","s":"NMC","x":0.18,"y":0.41},{"q":"27","s":"NMC","x":0.22,"y":0.38},{"q":"27","s":"NMC","x":0.28,"y":0.33},{"q":"27","s":"NMC","x":0.355,"y":0.28},{"q":"27","s":"NMC","x":0.45,"y":0.22},
{"q":"27","s":"BCDMS","x":0.19,"y":0.38},{"q":"27","s":"BCDMS","x":0.25,"y":0.34},{"q":"27","s":"BCDMS","x":0.316,"y":0.3},{"q":"27","s":"BCDMS","x":0.4,"y":0.24},{"q":"27","s":"BCDMS","x":0.5,"y":0.17},{"q":"27","s":"BCDMS","x":0.63,"y":0.1},{"q":"27","s":"BCDMS","x":0.79,"y":0.04},{"q":"27","s":"BCDMS","x":0.89,"y":0.01},
{"q":"35","s":"fit","x":1.8e-4,"y":2.18,"e":0.03},{"q":"35","s":"fit","x":3.16e-4,"y":1.9,"e":0.035},{"q":"35","s":"fit","x":6.3e-4,"y":1.6,"e":0.02},{"q":"35","s":"fit","x":1e-3,"y":1.42,"e":0.015},{"q":"35","s":"fit","x":2e-3,"y":1.16,"e":0.012},{"q":"35","s":"fit","x":4e-3,"y":0.94,"e":0.012},{"q":"35","s":"fit","x":7.9e-3,"y":0.76,"e":0.012},{"q":"35","s":"fit","x":0.0158,"y":0.62,"e":0.012},{"q":"35","s":"fit","x":0.0316,"y":0.51,"e":0.012},{"q":"35","s":"fit","x":0.063,"y":0.44,"e":0.012},{"q":"35","s":"fit","x":0.1,"y":0.4,"e":0.012},{"q":"35","s":"fit","x":0.18,"y":0.35,"e":0.012},{"q":"35","s":"fit","x":0.28,"y":0.3,"e":0.012},{"q":"35","s":"fit","x":0.45,"y":0.21,"e":0.012},{"q":"35","s":"fit","x":0.63,"y":0.12,"e":0.012},{"q":"35","s":"fit","x":0.93,"y":0.01,"e":0.012},
{"q":"35","s":"ZEUS 96/7","x":7.9e-4,"y":1.46},{"q":"35","s":"ZEUS 96/7","x":1.26e-3,"y":1.24},{"q":"35","s":"ZEUS 96/7","x":2e-3,"y":1.105},{"q":"35","s":"ZEUS 96/7","x":3.2e-3,"y":0.955},{"q":"35","s":"ZEUS 96/7","x":5.1e-3,"y":0.865},{"q":"35","s":"ZEUS 96/7","x":8.1e-3,"y":0.72},{"q":"35","s":"ZEUS 96/7","x":0.0135,"y":0.645},{"q":"35","s":"ZEUS 96/7","x":0.022,"y":0.56},{"q":"35","s":"ZEUS 96/7","x":0.035,"y":0.495},
{"q":"35","s":"E665","x":0.072,"y":0.19,"e":0.13},{"q":"35","s":"E665","x":0.11,"y":0.27},{"q":"35","s":"E665","x":0.17,"y":0.37},
{"q":"35","s":"NMC","x":0.11,"y":0.45},{"q":"35","s":"NMC","x":0.14,"y":0.43},{"q":"35","s":"NMC","x":0.18,"y":0.42},{"q":"35","s":"NMC","x":0.22,"y":0.4},{"q":"35","s":"NMC","x":0.28,"y":0.36},{"q":"35","s":"NMC","x":0.355,"y":0.33},{"q":"35","s":"NMC","x":0.45,"y":0.28},{"q":"35","s":"NMC","x":0.56,"y":0.2},
{"q":"35","s":"BCDMS","x":0.1,"y":0.4},{"q":"35","s":"BCDMS","x":0.14,"y":0.37},{"q":"35","s":"BCDMS","x":0.2,"y":0.34},{"q":"35","s":"BCDMS","x":0.28,"y":0.29},{"q":"35","s":"BCDMS","x":0.4,"y":0.22},{"q":"35","s":"BCDMS","x":0.5,"y":0.15},{"q":"35","s":"BCDMS","x":0.63,"y":0.09},{"q":"35","s":"BCDMS","x":0.79,"y":0.04},{"q":"35","s":"BCDMS","x":0.93,"y":0.02}
],
"right": [
{"q":"45","s":"fit","x":2.3e-4,"y":2.19,"e":0.03},{"q":"45","s":"fit","x":4e-4,"y":1.93,"e":0.035},{"q":"45","s":"fit","x":7.9e-4,"y":1.62,"e":0.02},{"q":"45","s":"fit","x":1.58e-3,"y":1.28,"e":0.015},{"q":"45","s":"fit","x":3.16e-3,"y":1.02,"e":0.012},{"q":"45","s":"fit","x":6.3e-3,"y":0.84,"e":0.012},{"q":"45","s":"fit","x":0.0126,"y":0.69,"e":0.012},{"q":"45","s":"fit","x":0.025,"y":0.575,"e":0.012},{"q":"45","s":"fit","x":0.05,"y":0.49,"e":0.012},{"q":"45","s":"fit","x":0.1,"y":0.43,"e":0.012},{"q":"45","s":"fit","x":0.158,"y":0.4,"e":0.012},{"q":"45","s":"fit","x":0.25,"y":0.34,"e":0.012},{"q":"45","s":"fit","x":0.4,"y":0.26,"e":0.012},{"q":"45","s":"fit","x":0.63,"y":0.14,"e":0.012},{"q":"45","s":"fit","x":0.95,"y":0.0,"e":0.012},
{"q":"45","s":"ZEUS 96/7","x":8.1e-4,"y":1.595},{"q":"45","s":"ZEUS 96/7","x":1.35e-3,"y":1.325},{"q":"45","s":"ZEUS 96/7","x":2.2e-3,"y":1.14},{"q":"45","s":"ZEUS 96/7","x":3.2e-3,"y":1.0},{"q":"45","s":"ZEUS 96/7","x":5.1e-3,"y":0.91},{"q":"45","s":"ZEUS 96/7","x":8.5e-3,"y":0.78},{"q":"45","s":"ZEUS 96/7","x":0.0138,"y":0.66},{"q":"45","s":"ZEUS 96/7","x":0.023,"y":0.59},
{"q":"45","s":"E665","x":0.19,"y":0.3},{"q":"45","s":"E665","x":0.45,"y":0.23},
{"q":"45","s":"NMC","x":0.17,"y":0.38},{"q":"45","s":"NMC","x":0.22,"y":0.37},{"q":"45","s":"NMC","x":0.29,"y":0.33},{"q":"45","s":"NMC","x":0.37,"y":0.285},{"q":"45","s":"NMC","x":0.48,"y":0.23},{"q":"45","s":"NMC","x":0.62,"y":0.14},
{"q":"45","s":"BCDMS","x":0.158,"y":0.4},{"q":"45","s":"BCDMS","x":0.22,"y":0.33},{"q":"45","s":"BCDMS","x":0.316,"y":0.27},{"q":"45","s":"BCDMS","x":0.45,"y":0.21},{"q":"45","s":"BCDMS","x":0.62,"y":0.1},{"q":"45","s":"BCDMS","x":0.79,"y":0.03},{"q":"45","s":"BCDMS","x":0.95,"y":0.0},
{"q":"60","s":"fit","x":3e-4,"y":2.19,"e":0.03},{"q":"60","s":"fit","x":5e-4,"y":1.94,"e":0.035},{"q":"60","s":"fit","x":1e-3,"y":1.6,"e":0.02},{"q":"60","s":"fit","x":2e-3,"y":1.25,"e":0.015},{"q":"60","s":"fit","x":4e-3,"y":1.0,"e":0.012},{"q":"60","s":"fit","x":7.9e-3,"y":0.82,"e":0.012},{"q":"60","s":"fit","x":0.0158,"y":0.68,"e":0.012},{"q":"60","s":"fit","x":0.0316,"y":0.565,"e":0.012},{"q":"60","s":"fit","x":0.063,"y":0.49,"e":0.012},{"q":"60","s":"fit","x":0.126,"y":0.42,"e":0.012},{"q":"60","s":"fit","x":0.2,"y":0.37,"e":0.012},{"q":"60","s":"fit","x":0.316,"y":0.29,"e":0.012},{"q":"60","s":"fit","x":0.5,"y":0.2,"e":0.012},{"q":"60","s":"fit","x":0.71,"y":0.09,"e":0.012},{"q":"60","s":"fit","x":0.93,"y":0.0,"e":0.012},
{"q":"60","s":"ZEUS 96/7","x":1.3e-3,"y":1.44},{"q":"60","s":"ZEUS 96/7","x":2.1e-3,"y":1.225},{"q":"60","s":"ZEUS 96/7","x":3.3e-3,"y":1.08},{"q":"60","s":"ZEUS 96/7","x":5.4e-3,"y":0.9},{"q":"60","s":"ZEUS 96/7","x":8.5e-3,"y":0.81},{"q":"60","s":"ZEUS 96/7","x":0.014,"y":0.7},{"q":"60","s":"ZEUS 96/7","x":0.022,"y":0.61},{"q":"60","s":"ZEUS 96/7","x":0.036,"y":0.54},{"q":"60","s":"ZEUS 96/7","x":0.058,"y":0.51},
{"q":"60","s":"BCDMS","x":0.145,"y":0.4},{"q":"60","s":"BCDMS","x":0.18,"y":0.38},{"q":"60","s":"BCDMS","x":0.22,"y":0.35},{"q":"60","s":"BCDMS","x":0.28,"y":0.31},{"q":"60","s":"BCDMS","x":0.355,"y":0.27},{"q":"60","s":"BCDMS","x":0.45,"y":0.22},{"q":"60","s":"BCDMS","x":0.56,"y":0.15},{"q":"60","s":"BCDMS","x":0.71,"y":0.08},{"q":"60","s":"BCDMS","x":0.89,"y":0.02},
{"q":"60","s":"E665","x":0.47,"y":0.21},
{"q":"60","s":"NMC","x":0.31,"y":0.255},{"q":"60","s":"NMC","x":0.44,"y":0.185},{"q":"60","s":"NMC","x":0.62,"y":0.13},
{"q":"70","s":"fit","x":2.5e-4,"y":2.19,"e":0.03},{"q":"70","s":"fit","x":5e-4,"y":1.98,"e":0.035},{"q":"70","s":"fit","x":1e-3,"y":1.7,"e":0.02},{"q":"70","s":"fit","x":2e-3,"y":1.38,"e":0.015},{"q":"70","s":"fit","x":4e-3,"y":1.1,"e":0.012},{"q":"70","s":"fit","x":7.9e-3,"y":0.89,"e":0.012},{"q":"70","s":"fit","x":0.0158,"y":0.73,"e":0.012},{"q":"70","s":"fit","x":0.0316,"y":0.6,"e":0.012},{"q":"70","s":"fit","x":0.063,"y":0.52,"e":0.012},{"q":"70","s":"fit","x":0.126,"y":0.43,"e":0.012},{"q":"70","s":"fit","x":0.2,"y":0.37,"e":0.012},{"q":"70","s":"fit","x":0.316,"y":0.3,"e":0.012},{"q":"70","s":"fit","x":0.5,"y":0.2,"e":0.012},{"q":"70","s":"fit","x":0.71,"y":0.09,"e":0.012},{"q":"70","s":"fit","x":0.93,"y":0.0,"e":0.012},
{"q":"70","s":"ZEUS 96/7","x":1.45e-3,"y":1.53},{"q":"70","s":"ZEUS 96/7","x":2.4e-3,"y":1.3},{"q":"70","s":"ZEUS 96/7","x":3.5e-3,"y":1.13},{"q":"70","s":"ZEUS 96/7","x":5.5e-3,"y":1.0},{"q":"70","s":"ZEUS 96/7","x":8.7e-3,"y":0.87},{"q":"70","s":"ZEUS 96/7","x":0.0138,"y":0.76},{"q":"70","s":"ZEUS 96/7","x":0.022,"y":0.66},{"q":"70","s":"ZEUS 96/7","x":0.035,"y":0.59},{"q":"70","s":"ZEUS 96/7","x":0.055,"y":0.54},
{"q":"70","s":"BCDMS","x":0.18,"y":0.36},{"q":"70","s":"BCDMS","x":0.22,"y":0.34},{"q":"70","s":"BCDMS","x":0.28,"y":0.31},{"q":"70","s":"BCDMS","x":0.355,"y":0.27},{"q":"70","s":"BCDMS","x":0.45,"y":0.22},{"q":"70","s":"BCDMS","x":0.56,"y":0.16},{"q":"70","s":"BCDMS","x":0.71,"y":0.09},{"q":"70","s":"BCDMS","x":0.89,"y":0.03},
{"q":"90","s":"fit","x":2e-4,"y":2.19,"e":0.03},{"q":"90","s":"fit","x":4e-4,"y":1.95,"e":0.035},{"q":"90","s":"fit","x":7.9e-4,"y":1.68,"e":0.02},{"q":"90","s":"fit","x":1.58e-3,"y":1.38,"e":0.015},{"q":"90","s":"fit","x":3.16e-3,"y":1.14,"e":0.012},{"q":"90","s":"fit","x":6.3e-3,"y":0.94,"e":0.012},{"q":"90","s":"fit","x":0.0126,"y":0.78,"e":0.012},{"q":"90","s":"fit","x":0.025,"y":0.645,"e":0.012},{"q":"90","s":"fit","x":0.05,"y":0.535,"e":0.012},{"q":"90","s":"fit","x":0.1,"y":0.45,"e":0.012},{"q":"90","s":"fit","x":0.158,"y":0.4,"e":0.012},{"q":"90","s":"fit","x":0.25,"y":0.33,"e":0.012},{"q":"90","s":"fit","x":0.4,"y":0.25,"e":0.012},{"q":"90","s":"fit","x":0.63,"y":0.13,"e":0.012},{"q":"90","s":"fit","x":0.93,"y":0.01,"e":0.012},
{"q":"90","s":"ZEUS 96/7","x":2e-3,"y":1.3},{"q":"90","s":"ZEUS 96/7","x":3e-3,"y":1.16},{"q":"90","s":"ZEUS 96/7","x":4.6e-3,"y":1.03},{"q":"90","s":"ZEUS 96/7","x":6.9e-3,"y":0.92},{"q":"90","s":"ZEUS 96/7","x":0.0105,"y":0.79},{"q":"90","s":"ZEUS 96/7","x":0.0158,"y":0.73},{"q":"90","s":"ZEUS 96/7","x":0.024,"y":0.65},{"q":"90","s":"ZEUS 96/7","x":0.036,"y":0.58},{"q":"90","s":"ZEUS 96/7","x":0.055,"y":0.52},{"q":"90","s":"ZEUS 96/7","x":0.083,"y":0.48},
{"q":"90","s":"BCDMS","x":0.158,"y":0.38},{"q":"90","s":"BCDMS","x":0.2,"y":0.35},{"q":"90","s":"BCDMS","x":0.25,"y":0.32},{"q":"90","s":"BCDMS","x":0.316,"y":0.28},{"q":"90","s":"BCDMS","x":0.4,"y":0.23},{"q":"90","s":"BCDMS","x":0.5,"y":0.18},{"q":"90","s":"BCDMS","x":0.63,"y":0.12},{"q":"90","s":"BCDMS","x":0.79,"y":0.06},{"q":"90","s":"BCDMS","x":0.95,"y":0.02},
{"q":"120","s":"fit","x":5.2e-4,"y":2.19,"e":0.03},{"q":"120","s":"fit","x":1e-3,"y":1.85,"e":0.035},{"q":"120","s":"fit","x":1.58e-3,"y":1.6,"e":0.02},{"q":"120","s":"fit","x":3.16e-3,"y":1.25,"e":0.015},{"q":"120","s":"fit","x":6.3e-3,"y":0.99,"e":0.012},{"q":"120","s":"fit","x":0.0126,"y":0.8,"e":0.012},{"q":"120","s":"fit","x":0.025,"y":0.65,"e":0.012},{"q":"120","s":"fit","x":0.05,"y":0.51,"e":0.012},{"q":"120","s":"fit","x":0.1,"y":0.43,"e":0.012},{"q":"120","s":"fit","x":0.2,"y":0.33,"e":0.012},{"q":"120","s":"fit","x":0.316,"y":0.26,"e":0.012},{"q":"120","s":"fit","x":0.5,"y":0.17,"e":0.012},{"q":"120","s":"fit","x":0.71,"y":0.09,"e":0.012},{"q":"120","s":"fit","x":1.0,"y":0.0,"e":0.012},
{"q":"120","s":"ZEUS 96/7","x":2.2e-3,"y":1.4},{"q":"120","s":"ZEUS 96/7","x":3.5e-3,"y":1.2},{"q":"120","s":"ZEUS 96/7","x":5.1e-3,"y":1.035},{"q":"120","s":"ZEUS 96/7","x":8.7e-3,"y":0.91},{"q":"120","s":"ZEUS 96/7","x":0.0145,"y":0.76},{"q":"120","s":"ZEUS 96/7","x":0.023,"y":0.66},{"q":"120","s":"ZEUS 96/7","x":0.035,"y":0.58},{"q":"120","s":"ZEUS 96/7","x":0.055,"y":0.47},{"q":"120","s":"ZEUS 96/7","x":0.091,"y":0.44},{"q":"120","s":"ZEUS 96/7","x":0.2,"y":0.33},
{"q":"120","s":"BCDMS","x":0.29,"y":0.27},{"q":"120","s":"BCDMS","x":0.33,"y":0.25},{"q":"120","s":"BCDMS","x":0.4,"y":0.22},{"q":"120","s":"BCDMS","x":0.48,"y":0.19},{"q":"120","s":"BCDMS","x":0.575,"y":0.14},{"q":"120","s":"BCDMS","x":0.69,"y":0.09},{"q":"120","s":"BCDMS","x":0.83,"y":0.05},{"q":"120","s":"BCDMS","x":0.98,"y":0.01},
{"q":"150","s":"fit","x":5.9e-4,"y":2.19,"e":0.03},{"q":"150","s":"fit","x":1e-3,"y":1.9,"e":0.035},{"q":"150","s":"fit","x":2e-3,"y":1.5,"e":0.02},{"q":"150","s":"fit","x":4e-3,"y":1.16,"e":0.015},{"q":"150","s":"fit","x":7.9e-3,"y":0.92,"e":0.012},{"q":"150","s":"fit","x":0.0158,"y":0.76,"e":0.012},{"q":"150","s":"fit","x":0.0316,"y":0.6,"e":0.012},{"q":"150","s":"fit","x":0.063,"y":0.49,"e":0.012},{"q":"150","s":"fit","x":0.126,"y":0.39,"e":0.012},{"q":"150","s":"fit","x":0.2,"y":0.32,"e":0.012},{"q":"150","s":"fit","x":0.316,"y":0.25,"e":0.012},{"q":"150","s":"fit","x":0.5,"y":0.16,"e":0.012},{"q":"150","s":"fit","x":0.71,"y":0.08,"e":0.012},{"q":"150","s":"fit","x":1.0,"y":-0.01,"e":0.012},
{"q":"150","s":"ZEUS 96/7","x":3.3e-3,"y":1.24},{"q":"150","s":"ZEUS 96/7","x":5.4e-3,"y":1.045},{"q":"150","s":"ZEUS 96/7","x":8.5e-3,"y":0.885},{"q":"150","s":"ZEUS 96/7","x":0.0135,"y":0.8},{"q":"150","s":"ZEUS 96/7","x":0.022,"y":0.655},{"q":"150","s":"ZEUS 96/7","x":0.035,"y":0.575},{"q":"150","s":"ZEUS 96/7","x":0.055,"y":0.515},{"q":"150","s":"ZEUS 96/7","x":0.091,"y":0.43},{"q":"150","s":"ZEUS 96/7","x":0.2,"y":0.325},
{"q":"150","s":"BCDMS","x":0.4,"y":0.21},{"q":"150","s":"BCDMS","x":0.47,"y":0.19},{"q":"150","s":"BCDMS","x":0.55,"y":0.16},{"q":"150","s":"BCDMS","x":0.65,"y":0.12},{"q":"150","s":"BCDMS","x":0.76,"y":0.08},{"q":"150","s":"BCDMS","x":0.89,"y":0.04},{"q":"150","s":"BCDMS","x":1.0,"y":0.0}
]
},
"hconcat": [
{
"data": {"name": "left"},
"columns": 4, "spacing": 0, "bounds": "flush",
"concat": [
{"width": 208, "height": 268, "title": "Q²=2.7 GeV²", "transform": [{"filter": "datum.q === '2.7'"}],
"encoding": {"x": {"field": "x", "type": "quantitative", "title": null, "scale": {"type": "log", "domain": [3e-5, 1.16], "nice": false}, "axis": {"values": [5e-5, 1e-4, 5e-4, 1e-3, 5e-3, 0.01, 0.05, 0.1, 0.5, 1], "labels": false}},
"y": {"field": "y", "type": "quantitative", "title": null, "scale": {"domain": [-0.085, 2.19], "nice": false, "zero": false}, "axis": {"values": [0, 0.2, 0.4, 0.6, 0.8, 1, 1.2, 1.4, 1.6, 1.8, 2], "labelExpr": "datum.value == 0 ? '0' : datum.value == 1 ? '1' : datum.value == 2 ? '2' : ''", "labelPadding": 24}}},
"layer": [
{"transform": [{"filter": "datum.s === 'fit'"}], "mark": {"type": "errorband", "band": {"color": "#ffff00"}, "clip": true}, "encoding": {"yError": {"field": "e"}, "opacity": {"datum": "tot. error", "type": "nominal", "scale": {"domain": ["tot. error"], "range": [1, 1]}, "legend": {"orient": "none", "legendX": 1531, "legendY": 400, "title": null, "symbolType": "M-1,-0.4H1V0.4H-1Z", "symbolSize": 2704, "symbolFillColor": "#ffff00", "symbolStrokeColor": "#9aa040", "symbolStrokeWidth": 1, "symbolOpacity": 1, "labelOffset": 21, "labelColor": "#1a2a2a"}}}},
{"transform": [{"filter": "datum.s === 'fit'"}], "mark": {"type": "line", "color": "#6f7f2f", "clip": true}, "encoding": {"strokeWidth": {"datum": "ZEUS NLO-QCD Fit", "type": "nominal", "scale": {"domain": ["ZEUS NLO-QCD Fit"], "range": [1.5, 1.5]}, "legend": {"orient": "none", "legendX": 1533, "legendY": 355, "title": null, "symbolType": "stroke", "symbolStrokeColor": "#9ab0b0", "symbolSize": 330, "symbolStrokeWidth": 1.5, "labelOffset": 10, "labelLimit": 400, "labelColor": "#1a2a2a", "labelBaseline": "alphabetic", "labelExpr": "['ZEUS NLO-QCD Fit', '   (Prel.) 2001']"}}}},
{"transform": [{"filter": "datum.s === 'ZEUS 96/7'"}], "mark": {"type": "point", "filled": true, "shape": "circle", "color": "#0000ff", "opacity": 1}, "encoding": {"size": {"datum": "ZEUS 96/7", "type": "nominal", "scale": {"domain": ["ZEUS 96/7"], "range": [70, 70]}, "legend": {"orient": "none", "legendX": 1547, "legendY": 480, "title": null, "symbolType": "circle", "symbolFillColor": "#0000ff", "symbolStrokeColor": "#0000ff", "symbolOpacity": 1, "labelOffset": 18, "labelColor": "#2222ff"}}}},
{"transform": [{"filter": "datum.s === 'BCDMS'"}], "mark": {"type": "point", "filled": true, "shape": "triangle-up", "size": 45, "opacity": 1}, "encoding": {"fill": {"datum": "BCDMS", "type": "nominal", "scale": {"domain": ["BCDMS"], "range": ["#ff2a2a"]}, "legend": {"orient": "none", "legendX": 1763, "legendY": 455, "title": null, "symbolType": "triangle-up", "symbolSize": 60, "symbolFillColor": "#ff2a2a", "symbolStrokeColor": "#ff2a2a", "symbolOpacity": 1, "labelOffset": 12, "labelColor": "#ff3030"}}}},
{"transform": [{"filter": "datum.s === 'E665'"}], "mark": {"type": "point", "filled": false, "shape": "square", "size": 70, "strokeWidth": 1.6, "opacity": 1}, "encoding": {"stroke": {"datum": "E665", "type": "nominal", "scale": {"domain": ["E665"], "range": ["#00e5ff"]}, "legend": {"orient": "none", "legendX": 1763, "legendY": 481, "title": null, "symbolType": "square", "symbolSize": 60, "symbolFillColor": "#ffffff", "symbolStrokeColor": "#00e5ff", "symbolStrokeWidth": 1.5, "symbolOpacity": 1, "labelOffset": 12, "labelColor": "#00e8ff"}}}},
{"transform": [{"filter": "datum.s === 'NMC'"}], "mark": {"type": "point", "filled": true, "shape": "triangle-down", "size": 45, "opacity": 1}, "encoding": {"color": {"datum": "NMC", "type": "nominal", "scale": {"domain": ["NMC"], "range": ["#00e000"]}, "legend": {"orient": "none", "legendX": 1763, "legendY": 508, "title": null, "symbolType": "triangle-down", "symbolSize": 60, "symbolFillColor": "#00e000", "symbolStrokeColor": "#00e000", "symbolOpacity": 1, "labelOffset": 12, "labelColor": "#00dd00"}}}}
]},
{"width": 208, "height": 268, "title": "Q²=3.5 GeV²", "transform": [{"filter": "datum.q === '3.5'"}],
"encoding": {"x": {"field": "x", "type": "quantitative", "title": null, "scale": {"type": "log", "domain": [3e-5, 1.16], "nice": false}, "axis": {"values": [5e-5, 1e-4, 5e-4, 1e-3, 5e-3, 0.01, 0.05, 0.1, 0.5, 1], "labels": false}},
"y": {"field": "y", "type": "quantitative", "title": null, "scale": {"domain": [-0.085, 2.19], "nice": false, "zero": false}, "axis": {"values": [0, 0.2, 0.4, 0.6, 0.8, 1, 1.2, 1.4, 1.6, 1.8, 2], "labels": false}}},
"layer": [
{"transform": [{"filter": "datum.s === 'fit'"}], "mark": {"type": "errorband", "band": {"color": "#ffff00", "opacity": 1}, "clip": true}, "encoding": {"yError": {"field": "e"}}},
{"transform": [{"filter": "datum.s === 'fit'"}], "mark": {"type": "line", "color": "#6f7f2f", "strokeWidth": 1.5, "clip": true}, "encoding": {}},
{"transform": [{"filter": "datum.s === 'ZEUS 96/7' && isValid(datum.e)"}], "mark": {"type": "errorbar", "color": "#1a1aff", "thickness": 2}, "encoding": {"yError": {"field": "e"}}},
{"transform": [{"filter": "datum.s === 'ZEUS 96/7'"}], "mark": {"type": "point", "filled": true, "shape": "circle", "color": "#0000ff", "size": 70, "opacity": 1}},
{"transform": [{"filter": "datum.s === 'NMC'"}], "mark": {"type": "point", "filled": true, "shape": "triangle-down", "color": "#00e000", "size": 45, "opacity": 1}},
{"transform": [{"filter": "datum.s === 'E665'"}], "mark": {"type": "point", "filled": false, "shape": "square", "color": "#00e5ff", "size": 70, "strokeWidth": 1.6, "opacity": 1}}
]},
{"width": 208, "height": 268, "title": "Q²=4.5 GeV²", "transform": [{"filter": "datum.q === '4.5'"}],
"encoding": {"x": {"field": "x", "type": "quantitative", "title": null, "scale": {"type": "log", "domain": [3e-5, 1.16], "nice": false}, "axis": {"values": [5e-5, 1e-4, 5e-4, 1e-3, 5e-3, 0.01, 0.05, 0.1, 0.5, 1], "labels": false}},
"y": {"field": "y", "type": "quantitative", "title": null, "scale": {"domain": [-0.085, 2.19], "nice": false, "zero": false}, "axis": {"values": [0, 0.2, 0.4, 0.6, 0.8, 1, 1.2, 1.4, 1.6, 1.8, 2], "labels": false}}},
"layer": [
{"transform": [{"filter": "datum.s === 'fit'"}], "mark": {"type": "errorband", "band": {"color": "#ffff00", "opacity": 1}, "clip": true}, "encoding": {"yError": {"field": "e"}}},
{"transform": [{"filter": "datum.s === 'fit'"}], "mark": {"type": "line", "color": "#6f7f2f", "strokeWidth": 1.5, "clip": true}, "encoding": {}},
{"transform": [{"filter": "datum.s === 'ZEUS 96/7' && isValid(datum.e)"}], "mark": {"type": "errorbar", "color": "#1a1aff", "thickness": 2}, "encoding": {"yError": {"field": "e"}}},
{"transform": [{"filter": "datum.s === 'ZEUS 96/7'"}], "mark": {"type": "point", "filled": true, "shape": "circle", "color": "#0000ff", "size": 70, "opacity": 1}},
{"transform": [{"filter": "datum.s === 'NMC'"}], "mark": {"type": "point", "filled": true, "shape": "triangle-down", "color": "#00e000", "size": 45, "opacity": 1}},
{"transform": [{"filter": "datum.s === 'E665'"}], "mark": {"type": "point", "filled": false, "shape": "square", "color": "#00e5ff", "size": 70, "strokeWidth": 1.6, "opacity": 1}}
]},
{"width": 208, "height": 268, "title": "Q²=6.5 GeV²", "transform": [{"filter": "datum.q === '6.5'"}],
"encoding": {"x": {"field": "x", "type": "quantitative", "title": null, "scale": {"type": "log", "domain": [3e-5, 1.16], "nice": false}, "axis": {"values": [5e-5, 1e-4, 5e-4, 1e-3, 5e-3, 0.01, 0.05, 0.1, 0.5, 1], "labels": false}},
"y": {"field": "y", "type": "quantitative", "title": null, "scale": {"domain": [-0.085, 2.19], "nice": false, "zero": false}, "axis": {"values": [0, 0.2, 0.4, 0.6, 0.8, 1, 1.2, 1.4, 1.6, 1.8, 2], "labels": false}}},
"layer": [
{"transform": [{"filter": "datum.s === 'fit'"}], "mark": {"type": "errorband", "band": {"color": "#ffff00", "opacity": 1}, "clip": true}, "encoding": {"yError": {"field": "e"}}},
{"transform": [{"filter": "datum.s === 'fit'"}], "mark": {"type": "line", "color": "#6f7f2f", "strokeWidth": 1.5, "clip": true}, "encoding": {}},
{"transform": [{"filter": "datum.s === 'ZEUS 96/7' && isValid(datum.e)"}], "mark": {"type": "errorbar", "color": "#1a1aff", "thickness": 2}, "encoding": {"yError": {"field": "e"}}},
{"transform": [{"filter": "datum.s === 'ZEUS 96/7'"}], "mark": {"type": "point", "filled": true, "shape": "circle", "color": "#0000ff", "size": 70, "opacity": 1}},
{"transform": [{"filter": "datum.s === 'BCDMS'"}], "mark": {"type": "point", "filled": true, "shape": "triangle-up", "color": "#ff2a2a", "size": 45, "opacity": 1}},
{"transform": [{"filter": "datum.s === 'NMC'"}], "mark": {"type": "point", "filled": true, "shape": "triangle-down", "color": "#00e000", "size": 45, "opacity": 1}},
{"transform": [{"filter": "datum.s === 'E665'"}], "mark": {"type": "point", "filled": false, "shape": "square", "color": "#00e5ff", "size": 70, "strokeWidth": 1.6, "opacity": 1}}
]},
{"width": 208, "height": 268, "title": "Q²=8.5 GeV²", "transform": [{"filter": "datum.q === '8.5'"}],
"encoding": {"x": {"field": "x", "type": "quantitative", "title": null, "scale": {"type": "log", "domain": [3e-5, 1.16], "nice": false}, "axis": {"values": [5e-5, 1e-4, 5e-4, 1e-3, 5e-3, 0.01, 0.05, 0.1, 0.5, 1], "labels": false}},
"y": {"field": "y", "type": "quantitative", "title": null, "scale": {"domain": [-0.085, 2.19], "nice": false, "zero": false}, "axis": {"values": [0, 0.2, 0.4, 0.6, 0.8, 1, 1.2, 1.4, 1.6, 1.8, 2], "labelExpr": "datum.value == 0 ? '0' : datum.value == 1 ? '1' : datum.value == 2 ? '2' : ''", "labelPadding": 24}}},
"layer": [
{"transform": [{"filter": "datum.s === 'fit'"}], "mark": {"type": "errorband", "band": {"color": "#ffff00", "opacity": 1}, "clip": true}, "encoding": {"yError": {"field": "e"}}},
{"transform": [{"filter": "datum.s === 'fit'"}], "mark": {"type": "line", "color": "#6f7f2f", "strokeWidth": 1.5, "clip": true}, "encoding": {}},
{"transform": [{"filter": "datum.s === 'ZEUS 96/7' && isValid(datum.e)"}], "mark": {"type": "errorbar", "color": "#1a1aff", "thickness": 2}, "encoding": {"yError": {"field": "e"}}},
{"transform": [{"filter": "datum.s === 'ZEUS 96/7'"}], "mark": {"type": "point", "filled": true, "shape": "circle", "color": "#0000ff", "size": 70, "opacity": 1}},
{"transform": [{"filter": "datum.s === 'BCDMS'"}], "mark": {"type": "point", "filled": true, "shape": "triangle-up", "color": "#ff2a2a", "size": 45, "opacity": 1}},
{"transform": [{"filter": "datum.s === 'NMC'"}], "mark": {"type": "point", "filled": true, "shape": "triangle-down", "color": "#00e000", "size": 45, "opacity": 1}}
]},
{"width": 208, "height": 268, "title": "Q²=10  GeV²", "transform": [{"filter": "datum.q === '10'"}],
"encoding": {"x": {"field": "x", "type": "quantitative", "title": null, "scale": {"type": "log", "domain": [3e-5, 1.16], "nice": false}, "axis": {"values": [5e-5, 1e-4, 5e-4, 1e-3, 5e-3, 0.01, 0.05, 0.1, 0.5, 1], "labels": false}},
"y": {"field": "y", "type": "quantitative", "title": null, "scale": {"domain": [-0.085, 2.19], "nice": false, "zero": false}, "axis": {"values": [0, 0.2, 0.4, 0.6, 0.8, 1, 1.2, 1.4, 1.6, 1.8, 2], "labels": false}}},
"layer": [
{"transform": [{"filter": "datum.s === 'fit'"}], "mark": {"type": "errorband", "band": {"color": "#ffff00", "opacity": 1}, "clip": true}, "encoding": {"yError": {"field": "e"}}},
{"transform": [{"filter": "datum.s === 'fit'"}], "mark": {"type": "line", "color": "#6f7f2f", "strokeWidth": 1.5, "clip": true}, "encoding": {}},
{"transform": [{"filter": "datum.s === 'ZEUS 96/7' && isValid(datum.e)"}], "mark": {"type": "errorbar", "color": "#1a1aff", "thickness": 2}, "encoding": {"yError": {"field": "e"}}},
{"transform": [{"filter": "datum.s === 'ZEUS 96/7'"}], "mark": {"type": "point", "filled": true, "shape": "circle", "color": "#0000ff", "size": 70, "opacity": 1}},
{"transform": [{"filter": "datum.s === 'BCDMS'"}], "mark": {"type": "point", "filled": true, "shape": "triangle-up", "color": "#ff2a2a", "size": 45, "opacity": 1}},
{"transform": [{"filter": "datum.s === 'E665'"}], "mark": {"type": "point", "filled": false, "shape": "square", "color": "#00e5ff", "size": 70, "strokeWidth": 1.6, "opacity": 1}}
]},
{"width": 208, "height": 268, "title": "Q²=12 GeV²", "transform": [{"filter": "datum.q === '12'"}],
"encoding": {"x": {"field": "x", "type": "quantitative", "title": null, "scale": {"type": "log", "domain": [3e-5, 1.16], "nice": false}, "axis": {"values": [5e-5, 1e-4, 5e-4, 1e-3, 5e-3, 0.01, 0.05, 0.1, 0.5, 1], "labels": false}},
"y": {"field": "y", "type": "quantitative", "title": null, "scale": {"domain": [-0.085, 2.19], "nice": false, "zero": false}, "axis": {"values": [0, 0.2, 0.4, 0.6, 0.8, 1, 1.2, 1.4, 1.6, 1.8, 2], "labels": false}}},
"layer": [
{"transform": [{"filter": "datum.s === 'fit'"}], "mark": {"type": "errorband", "band": {"color": "#ffff00", "opacity": 1}, "clip": true}, "encoding": {"yError": {"field": "e"}}},
{"transform": [{"filter": "datum.s === 'fit'"}], "mark": {"type": "line", "color": "#6f7f2f", "strokeWidth": 1.5, "clip": true}, "encoding": {}},
{"transform": [{"filter": "datum.s === 'ZEUS 96/7' && isValid(datum.e)"}], "mark": {"type": "errorbar", "color": "#1a1aff", "thickness": 2}, "encoding": {"yError": {"field": "e"}}},
{"transform": [{"filter": "datum.s === 'ZEUS 96/7'"}], "mark": {"type": "point", "filled": true, "shape": "circle", "color": "#0000ff", "size": 70, "opacity": 1}},
{"transform": [{"filter": "datum.s === 'BCDMS'"}], "mark": {"type": "point", "filled": true, "shape": "triangle-up", "color": "#ff2a2a", "size": 45, "opacity": 1}},
{"transform": [{"filter": "datum.s === 'NMC'"}], "mark": {"type": "point", "filled": true, "shape": "triangle-down", "color": "#00e000", "size": 45, "opacity": 1}},
{"transform": [{"filter": "datum.s === 'E665'"}], "mark": {"type": "point", "filled": false, "shape": "square", "color": "#00e5ff", "size": 70, "strokeWidth": 1.6, "opacity": 1}}
]},
{"width": 208, "height": 268, "title": "Q²=15 GeV²", "transform": [{"filter": "datum.q === '15'"}],
"encoding": {"x": {"field": "x", "type": "quantitative", "title": null, "scale": {"type": "log", "domain": [3e-5, 1.16], "nice": false}, "axis": {"values": [5e-5, 1e-4, 5e-4, 1e-3, 5e-3, 0.01, 0.05, 0.1, 0.5, 1], "labels": false}},
"y": {"field": "y", "type": "quantitative", "title": null, "scale": {"domain": [-0.085, 2.19], "nice": false, "zero": false}, "axis": {"values": [0, 0.2, 0.4, 0.6, 0.8, 1, 1.2, 1.4, 1.6, 1.8, 2], "labels": false}}},
"layer": [
{"transform": [{"filter": "datum.s === 'fit'"}], "mark": {"type": "errorband", "band": {"color": "#ffff00", "opacity": 1}, "clip": true}, "encoding": {"yError": {"field": "e"}}},
{"transform": [{"filter": "datum.s === 'fit'"}], "mark": {"type": "line", "color": "#6f7f2f", "strokeWidth": 1.5, "clip": true}, "encoding": {}},
{"transform": [{"filter": "datum.s === 'ZEUS 96/7' && isValid(datum.e)"}], "mark": {"type": "errorbar", "color": "#1a1aff", "thickness": 2}, "encoding": {"yError": {"field": "e"}}},
{"transform": [{"filter": "datum.s === 'ZEUS 96/7'"}], "mark": {"type": "point", "filled": true, "shape": "circle", "color": "#0000ff", "size": 70, "opacity": 1}},
{"transform": [{"filter": "datum.s === 'BCDMS'"}], "mark": {"type": "point", "filled": true, "shape": "triangle-up", "color": "#ff2a2a", "size": 45, "opacity": 1}},
{"transform": [{"filter": "datum.s === 'NMC'"}], "mark": {"type": "point", "filled": true, "shape": "triangle-down", "color": "#00e000", "size": 45, "opacity": 1}}
]},
{"width": 208, "height": 268, "title": "Q²=18 GeV²", "transform": [{"filter": "datum.q === '18'"}],
"encoding": {"x": {"field": "x", "type": "quantitative", "title": null, "scale": {"type": "log", "domain": [3e-5, 1.16], "nice": false}, "axis": {"values": [5e-5, 1e-4, 5e-4, 1e-3, 5e-3, 0.01, 0.05, 0.1, 0.5, 1], "labelExpr": "datum.value > 0.99 ? '1' : (datum.value > 0.0009 && datum.value < 0.0011 ? '10⁻³' : '')", "labelPadding": 38}},
"y": {"field": "y", "type": "quantitative", "title": null, "scale": {"domain": [-0.085, 2.19], "nice": false, "zero": false}, "axis": {"values": [0, 0.2, 0.4, 0.6, 0.8, 1, 1.2, 1.4, 1.6, 1.8, 2], "labelExpr": "datum.value == 0 ? '0' : datum.value == 1 ? '1' : datum.value == 2 ? '2' : ''", "labelPadding": 24}}},
"layer": [
{"transform": [{"filter": "datum.s === 'fit'"}], "mark": {"type": "errorband", "band": {"color": "#ffff00", "opacity": 1}, "clip": true}, "encoding": {"yError": {"field": "e"}}},
{"transform": [{"filter": "datum.s === 'fit'"}], "mark": {"type": "line", "color": "#6f7f2f", "strokeWidth": 1.5, "clip": true}, "encoding": {}},
{"transform": [{"filter": "datum.s === 'ZEUS 96/7'"}], "mark": {"type": "point", "filled": true, "shape": "circle", "color": "#0000ff", "size": 70, "opacity": 1}},
{"transform": [{"filter": "datum.s === 'BCDMS'"}], "mark": {"type": "point", "filled": true, "shape": "triangle-up", "color": "#ff2a2a", "size": 45, "opacity": 1}},
{"transform": [{"filter": "datum.s === 'NMC'"}], "mark": {"type": "point", "filled": true, "shape": "triangle-down", "color": "#00e000", "size": 45, "opacity": 1}},
{"transform": [{"filter": "datum.s === 'E665'"}], "mark": {"type": "point", "filled": false, "shape": "square", "color": "#00e5ff", "size": 70, "strokeWidth": 1.6, "opacity": 1}}
]},
{"width": 208, "height": 268, "title": "Q²=22 GeV²", "transform": [{"filter": "datum.q === '22'"}],
"encoding": {"x": {"field": "x", "type": "quantitative", "title": null, "scale": {"type": "log", "domain": [3e-5, 1.16], "nice": false}, "axis": {"values": [5e-5, 1e-4, 5e-4, 1e-3, 5e-3, 0.01, 0.05, 0.1, 0.5, 1], "labelExpr": "datum.value > 0.99 ? '1' : (datum.value > 0.0009 && datum.value < 0.0011 ? '10⁻³' : '')", "labelPadding": 38}},
"y": {"field": "y", "type": "quantitative", "title": null, "scale": {"domain": [-0.085, 2.19], "nice": false, "zero": false}, "axis": {"values": [0, 0.2, 0.4, 0.6, 0.8, 1, 1.2, 1.4, 1.6, 1.8, 2], "labels": false}}},
"layer": [
{"transform": [{"filter": "datum.s === 'fit'"}], "mark": {"type": "errorband", "band": {"color": "#ffff00", "opacity": 1}, "clip": true}, "encoding": {"yError": {"field": "e"}}},
{"transform": [{"filter": "datum.s === 'fit'"}], "mark": {"type": "line", "color": "#6f7f2f", "strokeWidth": 1.5, "clip": true}, "encoding": {}},
{"transform": [{"filter": "datum.s === 'ZEUS 96/7'"}], "mark": {"type": "point", "filled": true, "shape": "circle", "color": "#0000ff", "size": 70, "opacity": 1}},
{"transform": [{"filter": "datum.s === 'BCDMS'"}], "mark": {"type": "point", "filled": true, "shape": "triangle-up", "color": "#ff2a2a", "size": 45, "opacity": 1}}
]},
{"width": 208, "height": 268, "title": "Q²=27 GeV²", "transform": [{"filter": "datum.q === '27'"}],
"encoding": {"x": {"field": "x", "type": "quantitative", "title": null, "scale": {"type": "log", "domain": [3e-5, 1.16], "nice": false}, "axis": {"values": [5e-5, 1e-4, 5e-4, 1e-3, 5e-3, 0.01, 0.05, 0.1, 0.5, 1], "labelExpr": "datum.value > 0.99 ? '1' : (datum.value > 0.0009 && datum.value < 0.0011 ? '10⁻³' : '')", "labelPadding": 38}},
"y": {"field": "y", "type": "quantitative", "title": null, "scale": {"domain": [-0.085, 2.19], "nice": false, "zero": false}, "axis": {"values": [0, 0.2, 0.4, 0.6, 0.8, 1, 1.2, 1.4, 1.6, 1.8, 2], "labels": false}}},
"layer": [
{"transform": [{"filter": "datum.s === 'fit'"}], "mark": {"type": "errorband", "band": {"color": "#ffff00", "opacity": 1}, "clip": true}, "encoding": {"yError": {"field": "e"}}},
{"transform": [{"filter": "datum.s === 'fit'"}], "mark": {"type": "line", "color": "#6f7f2f", "strokeWidth": 1.5, "clip": true}, "encoding": {}},
{"transform": [{"filter": "datum.s === 'ZEUS 96/7' && isValid(datum.e)"}], "mark": {"type": "errorbar", "color": "#1a1aff", "thickness": 2}, "encoding": {"yError": {"field": "e"}}},
{"transform": [{"filter": "datum.s === 'E665' && isValid(datum.e)"}], "mark": {"type": "errorbar", "color": "#00e5ff", "thickness": 1.5, "ticks": {"size": 8}}, "encoding": {"yError": {"field": "e"}}},
{"transform": [{"filter": "datum.s === 'ZEUS 96/7'"}], "mark": {"type": "point", "filled": true, "shape": "circle", "color": "#0000ff", "size": 70, "opacity": 1}},
{"transform": [{"filter": "datum.s === 'BCDMS'"}], "mark": {"type": "point", "filled": true, "shape": "triangle-up", "color": "#ff2a2a", "size": 45, "opacity": 1}},
{"transform": [{"filter": "datum.s === 'NMC'"}], "mark": {"type": "point", "filled": true, "shape": "triangle-down", "color": "#00e000", "size": 45, "opacity": 1}},
{"transform": [{"filter": "datum.s === 'E665'"}], "mark": {"type": "point", "filled": false, "shape": "square", "color": "#00e5ff", "size": 70, "strokeWidth": 1.6, "opacity": 1}}
]},
{"width": 208, "height": 268, "title": "Q²=35 GeV²", "transform": [{"filter": "datum.q === '35'"}],
"encoding": {"x": {"field": "x", "type": "quantitative", "title": "X", "scale": {"type": "log", "domain": [3e-5, 1.16], "nice": false}, "axis": {"values": [5e-5, 1e-4, 5e-4, 1e-3, 5e-3, 0.01, 0.05, 0.1, 0.5, 1], "labelExpr": "datum.value > 0.99 ? '1' : (datum.value > 0.0009 && datum.value < 0.0011 ? '10⁻³' : '')", "labelPadding": 38, "titleAnchor": "end", "titleFont": "Liberation Serif", "titleFontWeight": "bold", "titleFontSize": 32, "titleColor": "#0e1e1e", "titlePadding": 5}},
"y": {"field": "y", "type": "quantitative", "title": null, "scale": {"domain": [-0.085, 2.19], "nice": false, "zero": false}, "axis": {"values": [0, 0.2, 0.4, 0.6, 0.8, 1, 1.2, 1.4, 1.6, 1.8, 2], "labels": false}}},
"layer": [
{"transform": [{"filter": "datum.s === 'fit'"}], "mark": {"type": "errorband", "band": {"color": "#ffff00", "opacity": 1}, "clip": true}, "encoding": {"yError": {"field": "e"}}},
{"transform": [{"filter": "datum.s === 'fit'"}], "mark": {"type": "line", "color": "#6f7f2f", "strokeWidth": 1.5, "clip": true}, "encoding": {}},
{"transform": [{"filter": "datum.s === 'E665' && isValid(datum.e)"}], "mark": {"type": "errorbar", "color": "#00e5ff", "thickness": 1.5, "ticks": {"size": 8}}, "encoding": {"yError": {"field": "e"}}},
{"transform": [{"filter": "datum.s === 'ZEUS 96/7'"}], "mark": {"type": "point", "filled": true, "shape": "circle", "color": "#0000ff", "size": 70, "opacity": 1}},
{"transform": [{"filter": "datum.s === 'BCDMS'"}], "mark": {"type": "point", "filled": true, "shape": "triangle-up", "color": "#ff2a2a", "size": 45, "opacity": 1}},
{"transform": [{"filter": "datum.s === 'NMC'"}], "mark": {"type": "point", "filled": true, "shape": "triangle-down", "color": "#00e000", "size": 45, "opacity": 1}},
{"transform": [{"filter": "datum.s === 'E665'"}], "mark": {"type": "point", "filled": false, "shape": "square", "color": "#00e5ff", "size": 70, "strokeWidth": 1.6, "opacity": 1}}
]}
]
},
{
"data": {"name": "right"},
"columns": 4, "spacing": 0, "bounds": "flush",
"concat": [
{"width": 207, "height": 268, "title": "Q²=45 GeV²", "transform": [{"filter": "datum.q === '45'"}],
"encoding": {"x": {"field": "x", "type": "quantitative", "title": null, "scale": {"type": "log", "domain": [3e-5, 1.16], "nice": false}, "axis": {"values": [5e-5, 1e-4, 5e-4, 1e-3, 5e-3, 0.01, 0.05, 0.1, 0.5, 1], "labels": false}},
"y": {"field": "y", "type": "quantitative", "title": null, "scale": {"domain": [-0.085, 2.19], "nice": false, "zero": false}, "axis": {"values": [0, 0.2, 0.4, 0.6, 0.8, 1, 1.2, 1.4, 1.6, 1.8, 2], "labelExpr": "datum.value == 0 ? '0' : datum.value == 1 ? '1' : datum.value == 2 ? '2' : ''", "labelPadding": 24}}},
"layer": [
{"transform": [{"filter": "datum.s === 'fit'"}], "mark": {"type": "errorband", "band": {"color": "#ffff00", "opacity": 1}, "clip": true}, "encoding": {"yError": {"field": "e"}}},
{"transform": [{"filter": "datum.s === 'fit'"}], "mark": {"type": "line", "color": "#6f7f2f", "strokeWidth": 1.5, "clip": true}, "encoding": {}},
{"transform": [{"filter": "datum.s === 'ZEUS 96/7'"}], "mark": {"type": "point", "filled": true, "shape": "circle", "color": "#0000ff", "size": 70, "opacity": 1}},
{"transform": [{"filter": "datum.s === 'BCDMS'"}], "mark": {"type": "point", "filled": true, "shape": "triangle-up", "color": "#ff2a2a", "size": 45, "opacity": 1}},
{"transform": [{"filter": "datum.s === 'NMC'"}], "mark": {"type": "point", "filled": true, "shape": "triangle-down", "color": "#00e000", "size": 45, "opacity": 1}},
{"transform": [{"filter": "datum.s === 'E665'"}], "mark": {"type": "point", "filled": false, "shape": "square", "color": "#00e5ff", "size": 70, "strokeWidth": 1.6, "opacity": 1}}
]},
{"width": 207, "height": 268, "title": "Q²=60  GeV²", "transform": [{"filter": "datum.q === '60'"}],
"encoding": {"x": {"field": "x", "type": "quantitative", "title": null, "scale": {"type": "log", "domain": [3e-5, 1.16], "nice": false}, "axis": {"values": [5e-5, 1e-4, 5e-4, 1e-3, 5e-3, 0.01, 0.05, 0.1, 0.5, 1], "labels": false}},
"y": {"field": "y", "type": "quantitative", "title": null, "scale": {"domain": [-0.085, 2.19], "nice": false, "zero": false}, "axis": {"values": [0, 0.2, 0.4, 0.6, 0.8, 1, 1.2, 1.4, 1.6, 1.8, 2], "labels": false}}},
"layer": [
{"transform": [{"filter": "datum.s === 'fit'"}], "mark": {"type": "errorband", "band": {"color": "#ffff00", "opacity": 1}, "clip": true}, "encoding": {"yError": {"field": "e"}}},
{"transform": [{"filter": "datum.s === 'fit'"}], "mark": {"type": "line", "color": "#6f7f2f", "strokeWidth": 1.5, "clip": true}, "encoding": {}},
{"transform": [{"filter": "datum.s === 'ZEUS 96/7'"}], "mark": {"type": "point", "filled": true, "shape": "circle", "color": "#0000ff", "size": 70, "opacity": 1}},
{"transform": [{"filter": "datum.s === 'BCDMS'"}], "mark": {"type": "point", "filled": true, "shape": "triangle-up", "color": "#ff2a2a", "size": 45, "opacity": 1}},
{"transform": [{"filter": "datum.s === 'NMC'"}], "mark": {"type": "point", "filled": true, "shape": "triangle-down", "color": "#00e000", "size": 45, "opacity": 1}},
{"transform": [{"filter": "datum.s === 'E665'"}], "mark": {"type": "point", "filled": false, "shape": "square", "color": "#00e5ff", "size": 70, "strokeWidth": 1.6, "opacity": 1}}
]},
{"width": 207, "height": 268, "title": "Q²=70 GeV²", "transform": [{"filter": "datum.q === '70'"}],
"encoding": {"x": {"field": "x", "type": "quantitative", "title": null, "scale": {"type": "log", "domain": [3e-5, 1.16], "nice": false}, "axis": {"values": [5e-5, 1e-4, 5e-4, 1e-3, 5e-3, 0.01, 0.05, 0.1, 0.5, 1], "labelExpr": "datum.value > 0.99 ? '1' : (datum.value > 0.0009 && datum.value < 0.0011 ? '10⁻³' : '')", "labelPadding": 38}},
"y": {"field": "y", "type": "quantitative", "title": null, "scale": {"domain": [-0.085, 2.19], "nice": false, "zero": false}, "axis": {"values": [0, 0.2, 0.4, 0.6, 0.8, 1, 1.2, 1.4, 1.6, 1.8, 2], "labels": false}}},
"layer": [
{"transform": [{"filter": "datum.s === 'fit'"}], "mark": {"type": "errorband", "band": {"color": "#ffff00", "opacity": 1}, "clip": true}, "encoding": {"yError": {"field": "e"}}},
{"transform": [{"filter": "datum.s === 'fit'"}], "mark": {"type": "line", "color": "#6f7f2f", "strokeWidth": 1.5, "clip": true}, "encoding": {}},
{"transform": [{"filter": "datum.s === 'ZEUS 96/7'"}], "mark": {"type": "point", "filled": true, "shape": "circle", "color": "#0000ff", "size": 70, "opacity": 1}},
{"transform": [{"filter": "datum.s === 'BCDMS'"}], "mark": {"type": "point", "filled": true, "shape": "triangle-up", "color": "#ff2a2a", "size": 45, "opacity": 1}}
]},
{"width": 207, "height": 268, "title": "Q²=90 GeV²", "transform": [{"filter": "datum.q === '90'"}],
"encoding": {"x": {"field": "x", "type": "quantitative", "title": null, "scale": {"type": "log", "domain": [3e-5, 1.16], "nice": false}, "axis": {"values": [5e-5, 1e-4, 5e-4, 1e-3, 5e-3, 0.01, 0.05, 0.1, 0.5, 1], "labelExpr": "datum.value > 0.99 ? '1' : (datum.value > 0.0009 && datum.value < 0.0011 ? '10⁻³' : '')", "labelPadding": 38}},
"y": {"field": "y", "type": "quantitative", "title": null, "scale": {"domain": [-0.085, 2.19], "nice": false, "zero": false}, "axis": {"values": [0, 0.2, 0.4, 0.6, 0.8, 1, 1.2, 1.4, 1.6, 1.8, 2], "labels": false}}},
"layer": [
{"transform": [{"filter": "datum.s === 'fit'"}], "mark": {"type": "errorband", "band": {"color": "#ffff00", "opacity": 1}, "clip": true}, "encoding": {"yError": {"field": "e"}}},
{"transform": [{"filter": "datum.s === 'fit'"}], "mark": {"type": "line", "color": "#6f7f2f", "strokeWidth": 1.5, "clip": true}, "encoding": {}},
{"transform": [{"filter": "datum.s === 'ZEUS 96/7'"}], "mark": {"type": "point", "filled": true, "shape": "circle", "color": "#0000ff", "size": 70, "opacity": 1}},
{"transform": [{"filter": "datum.s === 'BCDMS'"}], "mark": {"type": "point", "filled": true, "shape": "triangle-up", "color": "#ff2a2a", "size": 45, "opacity": 1}}
]},
{"width": 207, "height": 268, "title": "Q²=120  GeV²", "transform": [{"filter": "datum.q === '120'"}],
"encoding": {"x": {"field": "x", "type": "quantitative", "title": null, "scale": {"type": "log", "domain": [3e-5, 1.16], "nice": false}, "axis": {"values": [5e-5, 1e-4, 5e-4, 1e-3, 5e-3, 0.01, 0.05, 0.1, 0.5, 1], "labelExpr": "datum.value > 0.99 ? '1' : (datum.value > 0.0009 && datum.value < 0.0011 ? '10⁻³' : '')", "labelPadding": 38}},
"y": {"field": "y", "type": "quantitative", "title": null, "scale": {"domain": [-0.085, 2.19], "nice": false, "zero": false}, "axis": {"values": [0, 0.2, 0.4, 0.6, 0.8, 1, 1.2, 1.4, 1.6, 1.8, 2], "labelExpr": "datum.value == 0 ? '0' : datum.value == 1 ? '1' : datum.value == 2 ? '2' : ''", "labelPadding": 24}}},
"layer": [
{"transform": [{"filter": "datum.s === 'fit'"}], "mark": {"type": "errorband", "band": {"color": "#ffff00", "opacity": 1}, "clip": true}, "encoding": {"yError": {"field": "e"}}},
{"transform": [{"filter": "datum.s === 'fit'"}], "mark": {"type": "line", "color": "#6f7f2f", "strokeWidth": 1.5, "clip": true}, "encoding": {}},
{"transform": [{"filter": "datum.s === 'ZEUS 96/7'"}], "mark": {"type": "point", "filled": true, "shape": "circle", "color": "#0000ff", "size": 70, "opacity": 1}},
{"transform": [{"filter": "datum.s === 'BCDMS'"}], "mark": {"type": "point", "filled": true, "shape": "triangle-up", "color": "#ff2a2a", "size": 45, "opacity": 1}}
]},
{"width": 207, "height": 268, "title": "Q²=150 GeV²", "transform": [{"filter": "datum.q === '150'"}],
"encoding": {"x": {"field": "x", "type": "quantitative", "title": "X", "scale": {"type": "log", "domain": [3e-5, 1.16], "nice": false}, "axis": {"values": [5e-5, 1e-4, 5e-4, 1e-3, 5e-3, 0.01, 0.05, 0.1, 0.5, 1], "labelExpr": "datum.value > 0.99 ? '1' : (datum.value > 0.0009 && datum.value < 0.0011 ? '10⁻³' : '')", "labelPadding": 38, "titleAnchor": "end", "titleFont": "Liberation Serif", "titleFontWeight": "bold", "titleFontSize": 32, "titleColor": "#0e1e1e", "titlePadding": 5}},
"y": {"field": "y", "type": "quantitative", "title": null, "scale": {"domain": [-0.085, 2.19], "nice": false, "zero": false}, "axis": {"values": [0, 0.2, 0.4, 0.6, 0.8, 1, 1.2, 1.4, 1.6, 1.8, 2], "labels": false}}},
"layer": [
{"transform": [{"filter": "datum.s === 'fit'"}], "mark": {"type": "errorband", "band": {"color": "#ffff00", "opacity": 1}, "clip": true}, "encoding": {"yError": {"field": "e"}}},
{"transform": [{"filter": "datum.s === 'fit'"}], "mark": {"type": "line", "color": "#6f7f2f", "strokeWidth": 1.5, "clip": true}, "encoding": {}},
{"transform": [{"filter": "datum.s === 'ZEUS 96/7'"}], "mark": {"type": "point", "filled": true, "shape": "circle", "color": "#0000ff", "size": 70, "opacity": 1}},
{"transform": [{"filter": "datum.s === 'BCDMS'"}], "mark": {"type": "point", "filled": true, "shape": "triangle-up", "color": "#ff2a2a", "size": 45, "opacity": 1}}
]}
]
}
],
"config": {
"view": {"stroke": "#2e4f4f", "strokeWidth": 2},
"title": {"font": "Liberation Serif", "fontWeight": "bold", "fontSize": 25, "color": "#1a2a2a", "orient": "top", "anchor": "start", "frame": "group", "offset": -41, "dx": 22, "baseline": "alphabetic"},
"axis": {"domain": false, "grid": false, "tickColor": "#2e4f4f", "tickWidth": 1.5, "tickSize": -8, "labelFont": "Liberation Serif", "labelFontWeight": "bold", "labelFontSize": 32, "labelColor": "#101818", "labelOverlap": false, "labelFlush": false, "labelBound": false},
"legend": {"labelFont": "Liberation Serif", "labelFontWeight": "bold", "labelFontSize": 24, "padding": 0}
}
}
